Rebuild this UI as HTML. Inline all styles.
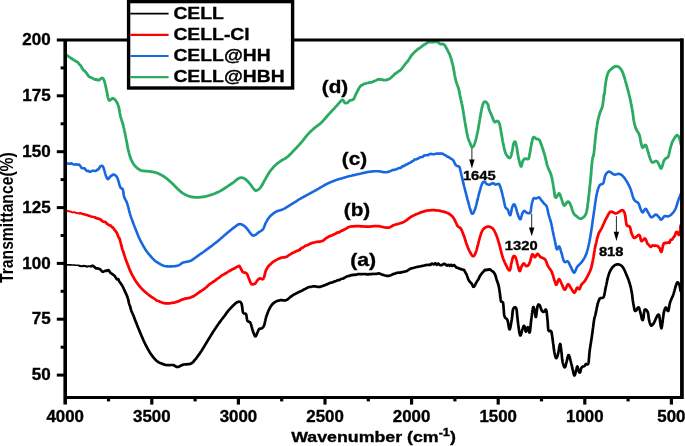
<!DOCTYPE html>
<html><head><meta charset="utf-8"><title>FTIR</title>
<style>
html,body{margin:0;padding:0;background:#fff;}
body{width:685px;height:446px;overflow:hidden;}
svg{display:block;stroke-linecap:butt;will-change:transform;font-family:"Liberation Sans",sans-serif;font-weight:bold;fill:#000;}
</style></head><body>
<svg width="685" height="446" viewBox="0 0 685 446">
<rect width="685" height="446" fill="#fff"/>
<path d="M65.2 264.8L65.7 264.8L66.4 264.8L67.1 264.8L68.0 264.9L69.0 264.9L69.9 264.9L70.9 264.9L71.9 265.0L72.9 265.0L73.8 265.0L74.6 265.1L75.5 265.2L76.4 265.3L77.2 265.3L78.0 265.2L78.8 265.5L79.5 265.8L80.3 266.1" fill="none" stroke="#000000" stroke-width="1.6" stroke-linejoin="round" stroke-linecap="round"/>
<path d="M79.5 265.8L80.3 266.1L81.1 266.3L81.9 266.3L82.7 266.0L83.5 265.9L84.3 266.0L85.1 266.1L86.0 266.2L86.8 266.6L87.6 266.5L88.4 266.3L89.2 266.2L90.0 266.2L90.9 266.5L91.7 266.1L92.5 265.8" fill="none" stroke="#000000" stroke-width="2.1" stroke-linejoin="round" stroke-linecap="round"/>
<path d="M91.7 266.1L92.5 265.8L93.4 266.0L94.2 266.7L95.0 267.7L95.8 268.2L96.5 268.5L97.3 268.3L98.1 268.5L98.8 268.7L99.5 269.0L100.2 269.3L100.9 270.1L101.6 270.8L102.3 271.6L103.2 271.8L104.0 271.4L104.9 270.9L105.8 270.8L106.6 271.0L107.4 270.2L108.2 270.0L108.9 270.6L109.5 271.4L110.1 272.3L110.7 273.1L111.3 273.4L111.9 273.7L112.6 274.3L113.1 274.7L113.7 275.1L114.3 275.5L114.9 276.3L115.5 277.2L116.2 278.2L116.8 279.2L117.4 279.4L117.9 279.2L118.4 279.2L119.0 280.7L119.6 282.0L120.1 282.6L120.6 283.2L121.1 283.8L121.5 284.5L122.0 285.3L122.4 285.9L122.7 286.5L123.0 287.1L123.4 287.8L123.7 288.5L124.0 289.3L124.4 290.1L124.7 290.9L125.0 291.6L125.3 292.3L125.7 292.9L126.0 293.6L126.4 294.4L126.7 295.2L127.0 296.1L127.4 296.9L127.6 297.7L127.9 298.4L128.1 299.2L128.3 299.9L128.4 300.6L128.6 301.3L128.7 302.0L128.9 302.8L129.1 303.6L129.4 304.5L129.6 305.0L129.8 305.5L130.1 306.2L130.3 307.2L130.6 308.3L130.9 309.4L131.2 310.4L131.5 311.2L131.8 311.9L132.1 312.6L132.5 313.3L132.8 314.1L133.1 314.9L133.5 315.7L133.8 316.6L134.1 317.3L134.4 318.1L134.6 318.8L134.9 319.6L135.2 320.4L135.5 321.1L135.8 321.9L136.1 322.7L136.5 323.5L136.8 324.3L137.1 325.1L137.4 325.9L137.7 326.7L138.0 327.5L138.4 328.3L138.7 329.0L139.0 329.8L139.3 330.6L139.6 331.3L139.9 332.1L140.3 332.9L140.6 333.7L141.0 334.5L141.3 335.4L141.6 336.2L142.0 336.9L142.3 337.7L142.7 338.5L143.0 339.3L143.3 340.1L143.7 340.8L144.0 341.5L144.4 342.3L144.7 343.0L145.1 343.7L145.4 344.4L145.8 345.2L146.2 346.0L146.7 346.8L147.1 347.6L147.5 348.4L147.9 349.2L148.3 349.9L148.8 350.6L149.2 351.3L149.6 352.0L150.0 352.7L150.5 353.4L150.9 354.0L151.3 354.6L151.9 355.4L152.5 356.2L153.0 357.0L153.6 357.7L154.2 358.4L154.8 359.0L155.4 359.6L155.9 360.2L156.5 360.7L157.1 361.2L157.8 361.8L158.6 362.2L159.4 362.6L160.1 363.0L160.9 363.3L161.6 363.6L162.3 363.9L163.0 364.1L163.9 364.4L164.8 364.7L165.5 364.9L166.4 365.0L167.3 365.1L168.1 365.1L168.9 365.1L169.8 365.1L170.7 365.0L171.6 365.0L172.4 365.0L173.2 365.1L174.2 365.4L175.0 365.9L175.8 366.5L176.7 366.9L177.6 367.0L178.3 366.9L179.1 366.6L179.9 366.2L180.7 365.7L181.6 365.3L182.5 364.9L183.4 364.6L184.2 364.5L185.0 364.4L185.8 364.3L186.7 364.3L187.6 364.2L188.4 364.2L189.2 364.1L190.0 363.9L190.7 363.7L191.5 363.3L192.1 362.9L192.7 362.4L193.3 361.9L193.8 361.2L194.4 360.5L195.1 359.7L195.5 359.2L196.0 358.6L196.4 358.0L196.9 357.4L197.4 356.7L197.9 356.0L198.4 355.3L198.9 354.6L199.4 353.9L199.9 353.2L200.4 352.4L200.9 351.7L201.4 351.0L201.8 350.3L202.3 349.6L202.7 348.9L203.2 348.2L203.6 347.4L204.1 346.7L204.5 345.9L205.0 345.2L205.4 344.4L205.9 343.7L206.3 342.9L206.8 342.2L207.2 341.5L207.7 340.7L208.1 340.0L208.6 339.3L209.0 338.5L209.5 337.8L209.9 337.0L210.4 336.3L210.8 335.6L211.3 334.8L211.7 334.1L212.2 333.4L212.6 332.7L213.0 332.0L213.5 331.3L213.9 330.6L214.4 330.0L214.8 329.3L215.2 328.6L215.7 328.0L216.1 327.3L216.6 326.7L217.0 326.0L217.5 325.3L217.9 324.7L218.4 324.0L218.9 323.3L219.4 322.6L219.9 321.9L220.5 321.2L221.0 320.5L221.5 319.8L222.1 319.0L222.6 318.3L223.1 317.7L223.6 317.0L224.1 316.4L224.6 315.8L225.0 315.2L225.6 314.4L226.2 313.6L226.6 312.9L227.1 312.3L227.6 311.7L228.0 311.1L228.6 310.4L229.2 309.7L229.7 309.1L230.3 308.5L230.9 307.8L231.5 307.2L232.2 306.5L232.9 305.8L233.5 305.2L234.2 304.6L234.8 304.0L235.3 303.5L235.8 303.1L236.9 302.3L237.9 301.9L238.7 301.7L239.4 301.7L240.3 301.9L241.0 302.6L241.6 303.9L241.8 304.5L241.9 305.2L242.0 306.0L242.1 306.9L242.3 307.8L242.4 308.8L242.5 309.7L242.6 310.6L242.8 311.4L242.9 312.1L243.1 312.6L243.8 313.4L244.6 313.5L245.3 313.5L246.0 314.1L246.2 314.7L246.4 315.5L246.6 316.4L246.7 317.4L246.8 318.3L247.0 319.2L247.2 320.1L247.4 320.7L248.1 321.4L248.9 321.7L249.7 322.0L250.4 322.8L250.7 323.4L250.9 324.1L251.2 324.9L251.4 325.7L251.6 326.6L251.9 327.5L252.1 328.4L252.3 329.3L252.6 330.1L252.9 331.0L253.2 332.0L253.6 333.0L253.9 333.9L254.3 334.8L254.6 335.5L254.9 336.1L255.2 336.4L255.7 336.3L256.2 335.4L256.7 334.2L257.2 333.1L257.6 332.3L257.9 331.4L258.3 330.5L258.7 329.7L259.1 329.1L260.0 328.7L261.0 328.6L262.0 328.2L262.6 327.7L263.1 327.1L263.7 326.2L264.2 325.0L264.4 324.4L264.6 323.8L264.8 323.0L264.9 322.2L265.1 321.4L265.3 320.6L265.5 319.7L265.7 318.8L265.9 318.0L266.1 317.1L266.4 316.3L266.7 315.5L267.0 314.7L267.3 313.8L267.6 313.0L267.9 312.1L268.3 311.3L268.6 310.4L269.0 309.6L269.4 308.9L269.7 308.2L270.1 307.5L270.6 306.7L271.1 305.9L271.6 305.2L272.2 304.5L272.7 303.9L273.3 303.4L273.9 302.9L274.5 302.4L275.3 301.9L276.1 301.5L276.9 301.1L277.7 300.8L278.6 300.6L279.5 300.4L280.3 300.2L281.1 300.1L282.0 300.2L282.8 300.3L283.6 300.4L284.4 300.5L285.3 300.4L286.1 300.2L286.7 299.9L287.4 299.5L288.0 299.1L288.6 298.5L289.2 298.0L289.9 297.4L290.5 296.9L291.3 296.3L292.0 295.8L292.6 295.4L293.3 295.0L293.9 294.6L294.6 294.3L295.3 293.9L296.0 293.5L296.7 293.1L297.5 292.7L298.3 292.3L299.1 291.9L300.0 291.5L300.7 291.2L301.4 290.9L302.1 290.6L302.9 290.2L303.7 289.7L304.5 289.2L305.3 288.9L306.1 288.4L306.9 288.0L307.7 287.6L308.5 287.2L309.3 287.0L310.1 286.9L310.8 286.9L311.5 286.7L312.4 286.5L313.3 286.4L314.1 286.3L315.0 286.3L315.8 286.5L316.6 286.7L317.3 286.8L318.1 286.8L318.8 286.8L319.6 286.9L320.3 286.8L321.1 286.5L321.9 286.2L322.7 285.9L323.4 285.7L324.1 285.4L324.8 285.2L325.7 284.8L326.6 284.4L327.6 284.1L328.2 283.8L328.9 283.4L329.6 283.1L330.4 282.8L331.2 282.7L332.0 282.5L332.8 282.3L333.7 281.7L334.5 281.4L335.3 281.3L336.2 280.9L337.0 280.5L337.8 280.2L338.5 280.1L339.3 280.1L340.0 279.6L340.9 279.0L341.8 278.8L342.7 278.6L343.5 278.4L344.3 277.8L345.1 277.4L345.9 276.9L346.7 276.6L347.4 276.3L348.2 276.1L348.9 275.9L349.6 275.8L350.5 275.4L351.4 275.1L352.2 275.2L353.0 274.9L353.8 274.7L354.6 274.8L355.3 274.8L356.1 274.7L356.9 274.4L357.8 274.2L358.7 274.1L359.6 274.2L360.4 274.2L361.3 274.0L362.2 274.2L363.1 274.2L364.0 274.0L364.8 274.0L365.6 274.1L366.5 274.4L367.3 274.3L368.2 274.2L369.0 274.3L369.8 274.2L370.7 274.2L371.5 274.1L372.3 274.0L373.1 273.8L373.9 274.0L374.6 274.0L375.4 273.9L376.2 273.8L377.0 273.8L377.9 273.5L378.8 273.4L379.5 273.6L380.3 273.8L381.1 274.2L381.9 274.5L382.7 274.8L383.5 274.9L384.3 275.2L385.2 275.5L386.0 275.7L386.8 275.8L387.6 275.8L388.3 275.9L389.2 275.8L390.0 275.5L390.8 275.3L391.6 274.9L392.3 274.5L393.1 274.1L393.9 273.8L394.7 273.7L395.5 273.4L396.3 273.0L397.1 272.8L397.9 272.8L398.7 272.6L399.6 272.6L400.4 272.6L401.3 272.3L402.1 272.1L402.9 272.0L403.7 271.8L404.4 271.7L405.1 271.5L405.9 271.3L406.7 271.1L407.3 270.7L408.0 270.3L408.6 269.8L409.3 269.3L410.0 268.9L410.9 268.5L411.6 268.3L412.4 268.2L413.2 268.0L414.0 267.8L414.9 267.5L415.8 267.2L416.7 267.0L417.6 266.8L418.4 266.7L419.2 266.5L420.0 266.4L420.9 266.2L421.7 266.0L422.6 265.8L423.4 265.7L424.2 265.5L424.9 265.3L425.7 265.2L426.5 264.9L427.3 265.0L428.1 265.0L428.9 264.6L429.7 264.9L430.5 264.9L431.3 263.9L432.1 263.6L432.9 264.0L433.7 264.4L434.6 264.1L435.3 263.2L436.1 263.9L436.9 264.8L437.7 263.8L438.5 263.7L439.3 264.6L440.1 265.1L441.0 265.3L441.8 265.1L442.6 264.6L443.4 264.1L444.3 263.8L445.2 264.2L446.1 264.9L447.0 265.6L447.8 265.1L448.7 264.8L449.6 265.8L450.5 265.2L451.3 264.8L452.1 266.0L453.0 265.7L453.9 265.0L454.7 265.6L455.6 266.6L456.4 267.6L457.2 267.7L458.0 268.0L458.7 268.4L459.4 268.6L460.3 268.9L461.1 269.1L461.9 269.4L462.6 269.7L463.2 269.8L463.8 269.9L464.3 270.2L464.7 271.1L465.1 271.9L465.5 272.7L465.9 273.3L466.3 274.0L466.7 274.6L467.0 275.6L467.4 276.7L467.8 277.8L468.1 278.8L468.5 279.6L468.9 280.4L469.3 281.1L469.7 281.6L470.0 282.0L470.4 282.3L471.1 283.0L471.8 283.7L472.5 285.2L473.1 286.6L473.7 286.8L474.2 286.5L474.7 285.8L475.2 284.9L475.6 283.8L476.2 282.8L476.6 282.2L476.9 281.5L477.3 280.9L477.7 280.4L478.1 279.8L478.6 279.0L479.0 278.0L479.5 276.9L479.9 276.1L480.4 275.3L480.9 274.6L481.5 273.9L482.0 273.2L482.6 272.5L483.2 271.9L483.7 271.3L484.2 270.6L485.0 269.8L485.7 270.1L486.5 270.2L487.2 269.6L487.9 269.5L488.8 269.8L489.7 269.3L490.6 269.7L491.5 270.7L492.0 271.0L492.6 271.2L493.1 271.7L493.7 272.3L494.2 273.0L494.7 273.9L495.2 274.8L495.5 275.7L495.8 276.7L496.1 277.8L496.4 278.9L496.7 279.9L496.9 280.6L497.2 281.3L497.4 282.0L497.7 282.7L497.9 283.3L498.1 284.0L498.4 284.9L498.6 285.7L498.7 286.4L498.9 287.0L499.0 287.8L499.2 288.7L499.4 289.9L499.5 290.6L499.6 291.4L499.7 292.3L499.9 293.2L500.0 294.2L500.1 295.2L500.2 296.3L500.3 297.3L500.5 298.3L500.6 299.1L500.7 299.9L500.8 300.5L501.0 301.1L501.1 301.6L502.1 301.8L503.0 302.5L503.1 303.0L503.2 303.7L503.3 304.5L503.4 305.4L503.5 306.3L503.5 307.3L503.6 308.3L503.7 309.3L503.8 310.3L503.9 311.4L503.9 312.3L504.0 313.3L504.1 314.2L504.2 315.0L504.4 315.7L504.5 316.3L505.0 317.5L505.6 318.1L506.2 318.5L506.8 319.0L507.4 319.9L507.6 320.5L507.8 321.4L508.0 322.3L508.2 323.4L508.4 324.4L508.5 325.5L508.7 326.5L508.9 327.5L509.1 328.3L509.2 328.9L509.4 329.3L509.6 329.4L509.8 329.3L509.9 328.9L510.1 328.4L510.3 327.7L510.5 326.9L510.7 326.0L510.8 325.0L511.0 324.0L511.2 323.0L511.3 322.0L511.5 321.0L511.7 320.0L511.8 319.2L511.9 318.3L512.1 317.4L512.2 316.4L512.3 315.5L512.4 314.5L512.5 313.5L512.5 312.6L512.6 311.7L512.8 310.9L512.9 310.2L513.0 309.5L513.2 309.0L514.1 307.6L515.3 307.2L516.2 308.2L516.4 308.7L516.5 309.2L516.6 309.9L516.7 310.7L516.9 311.5L516.9 312.4L517.0 313.4L517.1 314.4L517.2 315.4L517.3 316.4L517.4 317.4L517.5 318.3L517.6 319.2L517.7 320.0L517.8 320.9L517.9 321.8L518.0 322.7L518.1 323.6L518.2 324.5L518.4 325.4L518.5 326.3L518.6 327.2L518.7 328.1L518.8 328.8L518.9 329.6L519.0 330.3L519.1 330.9L519.3 332.2L519.6 333.4L519.8 334.3L520.0 335.0L520.2 335.4L520.5 335.5L520.7 335.2L521.0 334.5L521.3 333.5L521.6 332.4L521.8 331.3L522.1 330.2L522.4 329.4L522.8 328.4L523.1 327.3L523.5 326.4L523.8 325.9L524.2 325.8L524.4 326.2L524.7 327.1L524.9 328.2L525.2 329.3L525.4 330.4L525.6 331.2L525.9 331.6L526.3 331.2L526.6 330.1L527.0 328.8L527.4 327.6L527.8 327.2L528.1 327.7L528.4 328.9L528.8 330.4L529.1 331.7L529.4 332.5L529.7 332.3L529.8 332.0L529.9 331.5L530.0 331.0L530.1 330.3L530.2 329.6L530.3 328.7L530.4 327.9L530.5 326.9L530.6 326.0L530.7 325.0L530.8 324.0L530.9 323.0L531.0 322.0L531.1 321.0L531.2 320.1L531.3 319.3L531.4 318.4L531.5 317.7L531.6 316.7L531.8 315.7L531.9 314.7L532.0 313.7L532.2 312.7L532.3 311.7L532.4 310.8L532.6 310.0L532.7 309.2L532.8 308.5L533.0 308.0L533.1 307.5L533.2 307.2L533.5 307.0L533.8 307.7L534.1 308.8L534.4 310.1L534.7 311.2L534.9 312.1L535.1 313.2L535.2 314.4L535.4 315.6L535.5 316.5L535.7 317.0L535.9 317.0L536.0 316.7L536.1 316.1L536.3 315.4L536.4 314.6L536.5 313.6L536.6 312.5L536.8 311.4L536.9 310.3L537.0 309.3L537.2 308.3L537.3 307.4L537.5 306.7L537.6 306.1L538.5 304.5L539.5 304.9L539.8 305.4L540.1 306.1L540.4 307.0L540.7 308.0L541.1 308.9L541.4 309.8L541.7 310.4L542.4 311.3L543.2 311.8L543.9 311.9L544.7 311.0L545.4 309.7L546.1 309.7L546.2 310.1L546.4 310.7L546.5 311.3L546.6 312.1L546.8 313.0L546.9 313.9L547.0 314.9L547.1 315.9L547.2 316.9L547.3 317.9L547.4 318.9L547.5 319.8L547.6 320.6L547.7 321.5L547.7 322.4L547.8 323.4L547.8 324.3L547.9 325.3L548.0 326.2L548.0 327.1L548.1 327.9L548.2 328.7L548.3 329.4L548.4 330.0L548.5 330.5L549.3 331.2L550.3 330.8L551.1 331.2L551.3 331.7L551.5 332.3L551.6 332.9L551.8 333.7L551.9 334.5L552.0 335.4L552.2 336.3L552.3 337.2L552.4 338.3L552.6 339.3L552.7 340.0L552.8 340.7L552.9 341.5L553.0 342.4L553.1 343.2L553.3 344.1L553.4 345.0L553.5 345.9L553.6 346.8L553.7 347.7L553.8 348.6L553.9 349.4L554.1 350.2L554.2 351.0L554.3 351.7L554.4 352.3L554.7 353.6L554.9 354.8L555.2 355.9L555.4 356.8L555.7 357.5L555.9 358.0L556.2 358.2L556.5 358.1L556.8 357.6L557.1 356.9L557.5 355.9L557.8 354.8L558.1 353.6L558.3 352.9L558.4 352.1L558.6 351.2L558.8 350.2L559.0 349.1L559.1 348.1L559.3 347.1L559.5 346.2L559.7 345.4L559.8 344.7L560.0 344.2L560.1 344.0L560.3 344.1L560.5 344.5L560.6 345.2L560.7 346.2L560.9 347.3L561.0 348.6L561.1 349.8L561.3 351.0L561.4 351.7L561.5 352.4L561.6 353.2L561.7 354.1L561.8 355.0L561.8 355.9L561.9 356.8L562.0 357.7L562.1 358.5L562.2 359.4L562.3 360.2L562.5 361.0L562.6 361.7L562.7 362.3L563.0 363.6L563.4 364.9L563.8 366.0L564.2 366.8L564.5 367.3L564.9 367.4L565.2 367.1L565.4 366.6L565.6 365.8L565.9 364.8L566.1 363.8L566.3 362.8L566.6 361.8L566.8 360.9L567.1 359.9L567.3 358.8L567.6 357.7L567.8 356.6L568.1 355.8L568.3 355.2L568.6 355.0L568.9 355.2L569.1 355.7L569.4 356.5L569.7 357.4L570.0 358.5L570.3 359.6L570.5 360.6L570.8 361.6L571.0 362.4L571.2 363.1L571.4 364.0L571.6 364.8L571.8 365.6L572.0 366.5L572.2 367.3L572.3 368.1L572.5 368.9L572.7 369.6L573.0 370.6L573.2 371.8L573.4 372.9L573.7 373.9L573.9 374.7L574.2 375.3L574.4 375.5L574.7 375.3L575.0 374.6L575.3 373.6L575.6 372.4L575.9 371.3L576.2 370.4L576.5 369.4L576.7 368.3L576.9 367.3L577.1 366.6L577.3 366.4L577.5 366.7L577.8 367.4L578.0 368.4L578.3 369.4L578.6 370.4L578.8 371.1L579.4 372.5L580.0 372.6L580.2 372.1L580.5 371.2L580.7 370.2L581.0 369.1L581.3 368.1L581.7 367.4L582.4 366.8L583.2 366.5L583.9 366.3L584.6 366.0L585.2 365.2L585.6 364.4L586.1 363.8L587.2 364.5L588.3 363.8L588.4 363.3L588.5 362.8L588.6 362.2L588.7 361.5L588.8 360.7L588.8 359.9L588.9 359.1L589.0 358.2L589.1 357.2L589.2 356.3L589.2 355.3L589.3 354.4L589.4 353.4L589.5 352.5L589.6 351.6L589.7 350.7L589.8 349.9L589.9 349.2L590.0 348.4L590.1 347.6L590.3 346.8L590.4 346.0L590.5 345.2L590.6 344.4L590.8 343.6L590.9 342.8L591.0 342.0L591.1 341.1L591.3 340.3L591.4 339.5L591.5 338.6L591.7 337.8L591.8 337.0L591.9 336.1L592.0 335.3L592.1 334.5L592.2 333.7L592.4 332.8L592.5 331.9L592.6 331.1L592.7 330.2L592.8 329.3L592.9 328.4L593.1 327.5L593.2 326.6L593.3 325.8L593.4 324.9L593.5 324.1L593.6 323.3L593.7 322.6L593.8 321.9L593.9 321.2L594.0 320.6L594.1 320.0L594.3 318.7L594.5 317.7L594.7 317.0L594.9 316.5L595.1 315.9L595.3 315.2L595.5 314.2L595.6 313.5L595.8 312.8L596.0 312.1L596.1 311.2L596.3 310.4L596.5 309.5L596.6 308.7L596.8 307.8L597.0 306.9L597.2 306.1L597.4 305.4L597.5 304.6L597.7 304.0L598.0 302.9L598.3 301.9L598.6 301.1L598.9 300.3L599.2 299.6L599.5 298.9L599.9 298.4L600.8 298.0L601.8 298.0L602.8 297.9L603.6 297.1L603.8 296.6L604.0 296.0L604.2 295.4L604.4 294.6L604.5 293.8L604.7 293.0L604.8 292.1L605.0 291.2L605.2 290.3L605.3 289.4L605.5 288.4L605.7 287.5L605.9 286.8L606.0 286.0L606.2 285.3L606.4 284.5L606.5 283.6L606.7 282.8L606.9 282.0L607.1 281.1L607.2 280.3L607.4 279.4L607.6 278.6L607.8 277.8L608.0 277.1L608.2 276.3L608.4 275.6L608.6 275.0L608.9 274.0L609.3 273.1L609.6 272.2L610.0 271.4L610.3 270.7L610.7 270.0L611.1 269.3L611.5 268.6L611.9 268.1L612.3 267.5L613.0 266.8L613.7 266.1L614.4 265.5L615.1 265.0L615.9 264.7L616.7 264.4L617.4 264.3L618.1 264.3L618.9 264.5L619.7 264.7L620.4 265.1L621.2 265.6L621.9 266.1L622.5 266.8L622.9 267.3L623.3 267.9L623.7 268.6L624.1 269.3L624.4 270.0L624.8 270.8L625.1 271.6L625.4 272.4L625.8 273.2L626.1 274.0L626.4 274.7L626.7 275.5L627.1 276.2L627.4 277.0L627.7 277.7L628.0 278.5L628.3 279.3L628.6 280.1L628.9 280.9L629.1 281.7L629.4 282.5L629.6 283.3L629.9 284.1L630.1 284.8L630.3 285.6L630.5 286.4L630.7 287.2L630.9 288.0L631.1 288.8L631.2 289.7L631.4 290.6L631.6 291.5L631.7 292.2L631.9 293.0L632.0 293.8L632.1 294.6L632.2 295.4L632.3 296.3L632.4 297.2L632.5 298.0L632.6 298.9L632.7 299.7L632.8 300.5L633.0 301.3L633.1 302.1L633.2 302.8L633.3 303.5L633.5 304.6L633.7 305.7L633.9 306.7L634.1 307.8L634.2 308.7L634.5 309.5L634.7 310.2L634.9 310.7L635.2 311.0L635.7 310.9L636.3 310.3L636.9 309.3L637.5 308.3L638.0 307.5L638.5 307.3L638.9 307.6L639.2 308.2L639.5 309.0L639.7 310.1L640.0 311.1L640.3 312.2L640.5 313.0L640.7 313.9L641.0 314.8L641.2 315.8L641.4 316.8L641.6 317.8L641.8 318.6L642.0 319.2L642.2 319.7L642.8 320.1L643.4 318.4L643.5 317.8L643.6 317.0L643.7 316.0L643.8 314.9L643.9 313.8L644.0 312.7L644.2 311.7L644.3 310.8L644.5 310.1L644.7 309.7L645.4 309.4L646.3 309.9L647.1 311.0L647.8 312.2L648.0 312.8L648.2 313.6L648.3 314.4L648.4 315.3L648.5 316.2L648.6 317.1L648.7 318.0L648.8 318.9L649.0 319.7L649.2 320.7L649.5 321.8L649.8 322.8L650.1 323.8L650.4 324.6L650.8 325.2L651.1 325.6L651.6 325.6L652.2 325.2L652.8 324.5L653.4 323.7L654.0 322.8L654.4 322.1L654.7 321.3L655.1 320.4L655.5 319.5L655.8 318.7L656.2 317.9L656.5 317.2L657.1 316.1L657.8 315.1L658.4 314.6L658.9 314.7L659.1 315.1L659.3 315.7L659.4 316.5L659.6 317.4L659.7 318.4L659.8 319.4L659.9 320.3L660.1 321.3L660.2 322.1L660.4 323.2L660.5 324.4L660.7 325.6L660.9 326.7L661.1 327.6L661.2 328.1L661.4 328.3L661.5 328.1L661.7 327.6L661.8 326.9L662.0 326.0L662.1 325.0L662.3 324.0L662.4 322.9L662.6 321.9L662.7 320.9L662.8 320.1L662.9 319.2L663.0 318.3L663.2 317.3L663.3 316.4L663.4 315.5L663.5 314.6L663.6 313.7L663.8 312.9L663.9 312.2L664.2 311.1L664.5 310.0L664.8 309.1L665.1 308.3L665.4 307.8L665.8 307.5L666.3 307.9L666.7 308.9L667.3 310.1L667.7 310.9L668.2 311.0L668.4 310.7L668.6 310.1L668.7 309.5L668.9 308.7L669.0 307.8L669.2 306.9L669.3 305.9L669.5 304.9L669.7 304.0L669.9 303.1L670.1 302.3L670.4 301.5L670.7 300.8L671.0 300.0L671.3 299.3L671.6 298.6L671.9 297.9L672.3 297.2L672.6 296.4L672.9 295.7L673.2 294.9L673.5 294.1L673.7 293.3L673.9 292.5L674.2 291.6L674.4 290.8L674.6 289.9L674.9 289.1L675.1 288.3L675.3 287.5L675.5 286.8L675.7 286.2L676.1 285.0L676.5 284.0L676.8 283.2L677.1 282.7L677.5 282.4L678.2 282.6L678.8 283.6L679.4 284.9L679.6 285.6L679.8 286.6L680.0 287.6L680.2 288.7L680.4 289.7L680.5 290.5L680.6 291.1" fill="none" stroke="#000000" stroke-width="2.7" stroke-linejoin="round" stroke-linecap="round"/>
<path d="M65.2 210.6L65.1 210.5L66.6 210.8L67.1 210.9L67.7 211.0L68.4 211.2L69.2 211.3L70.0 211.4L70.9 211.7L71.8 212.1L72.7 212.4L73.7 212.3L74.6 212.3L75.6 212.6L76.5 213.1L77.4 213.2L78.2 213.3L79.0 213.2L79.9 213.2" fill="none" stroke="#ff0000" stroke-width="2.0" stroke-linejoin="round" stroke-linecap="round"/>
<path d="M79.9 213.2L80.7 213.2L81.5 213.5L82.3 213.9L83.1 214.3L83.9 214.2L84.7 214.2L85.5 214.9L86.2 215.0L87.0 214.8L87.7 215.3L88.5 215.9L89.2 215.6L90.1 215.8L90.9 216.6L91.7 216.7L92.5 216.8L93.3 216.9L94.1 217.1L94.9 217.4L95.6 217.8" fill="none" stroke="#ff0000" stroke-width="2.4" stroke-linejoin="round" stroke-linecap="round"/>
<path d="M94.9 217.4L95.6 217.8L96.4 218.1L97.2 218.4L98.0 218.6L98.7 218.7L99.5 219.0L100.2 219.3L101.0 219.9L101.8 220.6L102.5 221.3L103.3 221.6L104.0 221.8L104.7 221.8L105.4 222.0L106.1 222.8L106.7 223.6L107.5 224.0L108.2 224.5L108.9 225.1L109.6 225.3L110.2 225.4L110.9 225.8L111.5 226.6L112.0 227.2L112.6 227.4L113.2 227.7L113.7 228.6L114.2 229.5L114.7 230.1L115.2 230.6L115.6 231.1L116.1 231.7L116.5 232.4L116.9 233.1L117.3 233.9L117.7 234.9L118.0 235.8L118.3 236.6L118.6 237.2L119.0 237.7L119.3 238.3L119.6 238.9L119.9 239.9L120.1 240.7L120.4 241.5L120.6 242.4L120.8 243.2L121.0 244.1L121.2 245.0L121.5 245.9L121.7 246.8L121.9 247.7L122.1 248.6L122.4 249.3L122.6 250.0L122.8 250.6L123.1 251.3L123.3 251.9L123.5 252.6L123.7 253.3L124.0 254.0L124.2 254.7L124.4 255.4L124.7 256.2L125.0 257.2L125.3 258.2L125.7 259.3L125.9 260.0L126.2 260.6L126.4 261.3L126.7 262.0L127.0 262.7L127.3 263.4L127.6 264.2L127.9 265.0L128.2 265.8L128.5 266.6L128.8 267.4L129.1 268.2L129.5 269.1L129.8 269.9L130.1 270.6L130.5 271.4L130.8 272.2L131.2 272.9L131.5 273.6L131.9 274.4L132.3 275.1L132.7 275.9L133.1 276.6L133.5 277.3L133.9 278.0L134.3 278.8L134.7 279.5L135.2 280.2L135.6 280.8L136.1 281.5L136.5 282.2L136.9 282.8L137.4 283.4L137.9 284.1L138.3 284.7L138.8 285.3L139.3 286.0L139.9 286.6L140.4 287.3L141.0 287.9L141.6 288.5L142.2 289.1L142.8 289.7L143.3 290.3L143.9 290.8L144.5 291.4L145.1 291.9L145.8 292.4L146.4 293.0L147.0 293.5L147.6 294.0L148.3 294.5L149.0 295.1L149.7 295.6L150.4 296.2L151.1 296.7L151.8 297.2L152.5 297.6L153.3 298.0L154.0 298.5L154.7 299.0L155.4 299.5L156.0 300.0L156.7 300.4L157.3 300.7L158.2 301.0L159.0 301.3L159.8 301.7L160.5 302.0L161.3 302.2L162.0 302.5L162.8 302.8L163.7 303.1L164.6 303.2L165.4 303.3L166.1 303.4L167.0 303.4L167.8 303.4L168.7 303.4L169.6 303.3L170.5 303.2L171.4 303.0L172.3 302.8L173.1 302.7L174.0 302.7L174.8 302.5L175.7 302.2L176.5 301.8L177.3 301.6L178.1 301.4L178.9 301.2L179.7 300.8L180.5 300.2L181.2 299.9L182.0 299.7L182.8 299.4L183.6 299.1L184.4 298.9L185.2 298.6L186.0 298.3L186.8 298.5L187.6 298.4L188.3 298.0L189.1 297.9L189.9 297.8L190.7 297.5L191.5 297.1L192.3 296.6L193.0 296.4L193.6 296.2L194.3 295.8L195.0 295.2L195.6 294.8L196.3 294.3L196.9 293.9L197.6 293.4L198.3 292.9L199.0 292.5L199.7 291.9L200.4 291.4L201.1 291.1L201.7 290.7L202.3 290.2L202.9 289.8L203.5 289.4L204.1 289.1L204.8 288.5L205.4 288.0L206.0 287.5L206.7 287.0L207.3 286.3L208.0 285.5L208.6 285.1L209.3 284.6L209.9 284.0L210.6 283.5L211.3 283.1L212.0 282.7L212.6 282.2L213.3 281.7L214.0 281.3L214.7 280.8L215.4 280.3L216.2 279.7L216.9 279.0L217.6 278.5L218.3 278.1L219.0 277.6L219.7 277.2L220.4 276.5L221.1 276.0L221.7 275.5L222.4 275.1L223.0 274.8L223.8 274.4L224.7 273.8L225.5 273.4L226.2 273.1L227.0 272.5L227.7 272.0L228.4 271.5L229.1 271.2L229.8 270.8L230.5 270.4L231.2 270.1L231.8 269.7L232.6 269.2L233.5 268.9L234.3 268.4L235.1 268.0L235.9 267.5L236.6 267.0L237.2 266.8L237.8 266.6L238.3 266.3L239.4 265.9L240.0 266.9L240.3 267.5L240.7 268.3L241.1 269.1L241.5 270.0L242.0 270.8L242.4 271.5L242.9 272.1L243.8 272.5L244.8 272.6L245.8 272.9L246.6 273.4L247.0 274.1L247.4 274.8L247.8 275.5L248.1 276.4L248.4 277.3L248.8 278.3L249.1 279.1L249.5 280.0L249.8 280.9L250.2 281.8L250.5 282.6L250.9 283.3L251.3 283.8L251.7 284.2L252.5 284.4L253.4 284.2L254.4 284.0L255.3 283.4L255.8 282.7L256.3 282.0L256.8 281.2L257.4 280.4L257.9 279.7L258.4 279.2L259.0 278.7L259.9 278.4L260.8 278.5L261.7 278.9L262.6 279.3L263.4 278.6L263.7 278.0L264.0 277.3L264.3 276.5L264.5 275.6L264.7 274.7L265.0 273.7L265.2 272.8L265.4 271.9L265.7 271.1L266.0 270.4L266.3 269.7L266.7 269.0L267.2 268.1L267.6 267.3L268.1 266.6L268.6 266.0L269.1 265.5L269.6 265.0L270.1 264.6L270.7 264.1L271.4 263.4L272.1 262.7L272.8 262.0L273.5 261.5L274.3 261.2L275.0 260.7L275.8 260.3L276.5 259.9L277.3 259.4L278.2 258.9L279.1 258.7L279.9 258.4L280.7 257.9L281.5 257.7L282.3 257.5L283.2 257.3L284.1 257.3L284.9 257.3L285.7 256.8L286.7 256.6L287.4 256.4L288.0 255.8L288.7 255.2L289.5 254.8L290.2 254.4L291.0 253.8L291.8 253.3L292.6 252.9L293.4 252.6L294.3 252.2L295.2 251.7L296.1 251.3L297.1 250.9L297.9 250.6L298.7 250.3L299.4 250.1L299.9 250.1L299.7 249.6L300.0 249.0L300.4 248.9L300.9 248.5L301.5 248.1L302.1 247.9L302.8 247.6L303.6 247.1L304.4 246.5L305.2 245.9L306.1 245.5L306.9 245.3L307.8 245.0L308.6 244.6L309.4 244.2L310.2 243.7L311.0 243.4L311.7 243.0L312.5 242.8L313.4 242.6L314.2 242.5L315.0 242.3L315.9 242.0L316.7 241.9L317.5 241.9L318.3 241.7L319.0 241.7L319.8 241.8L320.5 241.5L321.2 241.3L321.9 241.1L322.7 240.8L323.4 240.4L324.1 239.9L324.7 239.4L325.3 238.8L325.9 238.4L326.6 237.9L327.3 237.5L328.2 237.0L329.2 236.4L329.8 236.1L330.4 235.9L331.1 235.7L331.8 235.4L332.5 235.1L333.3 234.7L334.1 234.3L334.9 234.0L335.8 233.6L336.6 232.9L337.4 232.6L338.2 232.4L339.1 232.3L339.8 231.8L340.6 231.2L341.3 230.9L342.0 230.7L342.7 230.3L343.3 230.1L343.8 229.8L344.9 229.3L345.8 228.8L346.5 228.4L347.1 228.0L347.6 227.6L348.1 227.3L348.8 227.0L349.6 226.8L350.3 226.6L351.0 226.5L351.7 226.4L352.5 226.4L353.3 226.3L354.1 226.3L355.0 226.2L355.8 226.2L356.7 226.2L357.5 226.2L358.4 226.2L359.2 226.2L360.0 226.2L360.9 226.3L361.7 226.3L362.6 226.3L363.5 226.4L364.4 226.5L365.3 226.5L366.1 226.5L367.0 226.6L367.8 226.6L368.6 226.6L369.4 226.6L370.3 226.5L371.1 226.4L371.8 226.4L372.6 226.3L373.4 226.2L374.2 226.1L374.9 226.0L375.7 226.0L376.6 226.0L377.4 226.0L378.2 226.1L379.1 226.2L380.0 226.4L380.9 226.5L381.8 226.8L382.7 227.0L383.6 227.2L384.5 227.4L385.3 227.5L386.1 227.6L386.9 227.7L387.6 227.7L388.7 227.6L389.7 227.3L390.6 226.9L391.4 226.4L392.2 226.0L392.8 225.6L393.4 225.3L394.0 225.1L395.0 224.8L395.5 224.6L396.2 224.4L396.9 224.2L397.7 224.0L398.6 223.8L399.5 223.5L400.4 223.2L401.3 222.9L402.2 222.6L403.0 222.3L403.8 221.9L404.5 221.5L405.2 221.1L405.9 220.6L406.6 220.1L407.2 219.6L407.9 219.1L408.5 218.6L409.1 218.1L409.8 217.7L410.4 217.2L411.1 216.8L411.8 216.4L412.6 216.0L413.3 215.6L414.0 215.3L414.8 214.9L415.5 214.6L416.2 214.3L416.9 214.0L417.7 213.7L418.4 213.4L419.2 213.1L420.0 212.7L420.8 212.4L421.6 212.1L422.5 211.8L423.3 211.6L424.1 211.3L424.9 211.1L425.7 210.9L426.5 210.7L427.3 210.6L428.1 210.5L428.9 210.4L429.8 210.3L430.6 210.3L431.4 210.2L432.2 210.2L433.0 210.2L433.8 210.2L434.6 210.2L435.4 210.3L436.2 210.3L437.1 210.4L437.9 210.5L438.7 210.6L439.5 210.7L440.3 210.9L441.1 211.1L442.0 211.3L442.8 211.5L443.7 211.7L444.5 211.9L445.3 212.2L446.1 212.5L446.9 212.8L447.6 213.1L448.5 213.5L449.3 214.0L450.1 214.5L450.8 215.0L451.5 215.6L452.1 216.2L452.7 216.8L453.2 217.5L453.7 218.2L454.1 218.9L454.5 219.7L454.9 220.5L455.2 221.2L455.6 221.9L456.0 222.7L456.4 223.5L456.7 224.3L457.0 225.0L457.4 225.7L457.8 226.3L458.5 226.9L459.2 227.3L460.0 227.7L460.7 228.5L461.1 229.1L461.4 229.8L461.8 230.5L462.2 231.3L462.5 232.2L462.9 233.1L463.2 234.0L463.6 235.0L463.9 235.7L464.1 236.5L464.4 237.3L464.7 238.1L464.9 238.9L465.2 239.8L465.4 240.6L465.7 241.4L466.0 242.3L466.2 243.0L466.5 243.8L466.8 244.7L467.1 245.6L467.5 246.4L467.8 247.3L468.1 248.1L468.5 248.9L468.8 249.7L469.1 250.4L469.5 251.1L470.0 252.0L470.5 253.0L471.0 253.9L471.6 254.8L472.1 255.5L472.6 256.0L473.1 256.2L473.6 256.1L474.1 255.7L474.6 255.0L475.1 254.1L475.5 253.0L476.0 251.8L476.2 251.2L476.4 250.6L476.6 249.9L476.8 249.1L477.0 248.3L477.2 247.5L477.4 246.7L477.7 245.8L477.9 245.0L478.1 244.1L478.3 243.3L478.5 242.4L478.7 241.7L478.9 240.9L479.1 240.0L479.4 239.2L479.6 238.3L479.9 237.4L480.1 236.5L480.4 235.7L480.7 234.9L480.9 234.1L481.2 233.3L481.4 232.6L481.7 232.0L481.9 231.4L482.5 230.3L483.0 229.5L483.6 228.9L484.2 228.4L484.8 227.9L485.7 227.3L486.6 226.9L487.5 226.6L488.5 226.6L489.2 226.7L490.0 226.9L490.8 227.2L491.5 227.6L492.3 228.1L493.0 228.8L493.4 229.3L493.8 229.9L494.2 230.5L494.6 231.3L494.9 232.0L495.3 232.8L495.7 233.6L496.0 234.4L496.4 235.3L496.7 236.1L497.0 236.8L497.2 237.5L497.5 238.3L497.7 239.0L498.0 239.8L498.2 240.6L498.4 241.4L498.7 242.2L498.9 243.0L499.1 243.8L499.4 244.7L499.6 245.5L499.8 246.2L500.0 247.0L500.2 247.8L500.4 248.6L500.6 249.5L500.8 250.3L501.1 251.1L501.3 252.0L501.5 252.8L501.7 253.6L501.9 254.4L502.1 255.1L502.3 255.8L502.5 256.5L502.8 257.5L503.1 258.4L503.4 259.2L503.7 260.0L504.0 260.8L504.3 261.6L504.7 262.3L505.0 263.0L505.4 263.8L505.8 264.6L506.3 265.6L506.8 266.6L507.2 267.6L507.7 268.5L508.2 269.3L508.7 269.9L509.1 270.3L509.5 270.4L509.8 270.2L510.1 269.7L510.3 269.0L510.5 268.1L510.7 267.1L510.9 266.1L511.0 265.0L511.2 264.0L511.4 263.1L511.6 262.3L511.9 261.3L512.1 260.2L512.4 259.1L512.7 258.2L512.9 257.3L513.2 256.7L513.5 256.2L514.2 255.9L515.0 256.5L515.7 257.7L515.9 258.3L516.2 259.0L516.4 259.8L516.7 260.8L516.9 261.7L517.1 262.7L517.3 263.6L517.6 264.5L517.8 265.3L518.1 266.3L518.4 267.4L518.6 268.4L518.9 269.4L519.2 270.2L519.4 270.8L519.7 271.1L520.1 270.9L520.4 270.0L520.8 268.9L521.1 267.7L521.5 266.7L522.0 265.7L522.6 264.7L523.1 263.9L523.7 263.5L524.3 263.8L524.9 264.6L525.6 265.5L526.2 266.0L527.0 266.0L527.8 265.7L528.5 265.0L528.9 264.4L529.2 263.7L529.6 262.9L529.9 261.9L530.3 260.9L530.5 260.1L530.8 259.2L531.0 258.2L531.3 257.2L531.6 256.2L531.8 255.3L532.1 254.7L532.4 254.3L533.0 254.5L533.6 255.5L534.3 256.7L534.9 257.2L535.4 256.8L536.0 256.0L536.5 255.1L537.0 254.2L537.6 253.9L538.1 254.1L538.7 254.7L539.2 255.5L539.8 256.3L540.5 257.0L541.2 257.4L542.0 257.7L542.8 258.0L543.6 258.4L544.4 258.9L545.1 259.5L545.5 260.1L545.8 260.7L546.2 261.4L546.5 262.2L546.7 263.0L547.0 263.8L547.3 264.6L547.7 265.4L548.0 266.1L548.4 266.8L548.9 267.5L549.4 268.2L549.9 268.9L550.3 269.5L550.8 270.3L551.3 271.0L551.7 271.9L552.0 272.6L552.3 273.4L552.6 274.2L552.9 275.1L553.1 276.0L553.4 276.9L553.7 277.7L553.9 278.6L554.2 279.4L554.4 280.1L554.6 280.7L555.0 282.0L555.4 283.1L555.7 284.0L556.0 284.6L556.4 284.7L556.7 284.3L557.1 283.5L557.4 282.5L557.8 281.3L558.2 280.3L558.6 279.5L559.0 279.2L559.4 279.4L559.8 279.9L560.2 280.6L560.6 281.5L561.1 282.5L561.5 283.5L561.9 284.3L562.3 285.2L562.7 286.1L563.1 287.2L563.5 288.1L563.9 288.9L564.4 289.5L564.8 289.7L565.2 289.4L565.7 288.7L566.2 287.7L566.6 286.6L567.1 285.5L567.6 284.7L568.0 284.3L568.6 284.4L569.1 285.0L569.6 285.8L570.1 286.8L570.7 287.7L571.2 288.4L571.7 289.3L572.2 290.2L572.8 291.1L573.3 291.9L573.8 292.4L574.3 292.6L574.8 292.4L575.2 291.7L575.6 290.9L576.0 289.9L576.4 288.9L576.8 288.2L577.2 287.7L578.0 287.9L578.7 288.9L579.4 289.1L579.8 288.6L580.1 287.9L580.5 287.0L580.8 286.0L581.2 285.1L581.6 284.3L582.1 283.7L582.7 283.2L583.2 282.7L583.9 282.2L584.5 281.4L584.9 280.8L585.3 280.2L585.7 279.5L586.1 278.7L586.6 277.9L587.0 277.1L587.4 276.3L587.8 275.6L588.2 274.8L588.6 274.1L588.9 273.4L589.3 272.7L589.6 272.1L589.9 271.4L590.2 270.7L590.5 269.9L590.8 269.1L591.1 268.2L591.3 267.5L591.5 266.8L591.7 266.1L591.8 265.4L592.0 264.6L592.2 263.8L592.3 263.0L592.5 262.2L592.7 261.4L592.8 260.6L593.0 259.7L593.1 258.9L593.3 258.0L593.4 257.3L593.6 256.5L593.7 255.7L593.8 254.9L594.0 254.1L594.1 253.3L594.2 252.5L594.4 251.7L594.5 250.9L594.6 250.1L594.8 249.2L594.9 248.4L595.1 247.6L595.2 246.8L595.4 246.0L595.6 245.2L595.8 244.3L596.0 243.5L596.2 242.6L596.4 241.8L596.6 240.9L596.8 240.0L597.0 239.2L597.2 238.3L597.4 237.5L597.7 236.7L597.9 236.0L598.1 235.3L598.3 234.6L598.5 234.0L598.9 232.9L599.4 232.0L599.9 231.2L600.3 230.5L600.7 229.9L601.1 229.3L601.5 228.7L601.9 227.9L602.1 227.2L602.4 226.6L602.7 225.9L603.1 224.9L603.4 224.3L603.7 223.6L604.1 222.9L604.4 222.1L604.8 221.3L605.2 220.4L605.6 219.6L606.0 218.8L606.4 218.1L606.8 217.4L607.3 216.6L607.7 215.7L608.1 214.8L608.6 214.0L609.0 213.3L609.5 212.6L610.0 212.1L610.5 211.8L611.3 211.7L612.1 211.9L613.0 212.3L613.9 212.8L614.8 213.2L615.5 213.4L616.4 213.3L617.1 213.0L617.8 212.6L618.6 212.2L619.3 211.8L620.1 211.2L620.9 210.6L621.6 210.3L622.3 210.2L622.9 210.4L623.4 210.8L623.9 211.5L624.4 212.4L624.8 213.7L625.0 214.3L625.1 215.0L625.2 215.8L625.4 216.6L625.5 217.5L625.6 218.5L625.7 219.4L625.8 220.4L626.0 221.3L626.1 222.2L626.2 223.0L626.4 223.7L626.5 224.4L626.7 224.9L627.4 225.9L628.3 226.1L629.1 226.1L629.8 226.7L630.1 227.3L630.3 228.1L630.5 229.0L630.7 229.9L630.9 230.9L631.1 231.9L631.4 232.7L631.6 233.5L632.0 234.4L632.4 235.4L632.8 236.2L633.2 237.0L633.6 237.6L634.1 237.9L634.8 237.8L635.6 237.3L636.5 236.6L637.2 236.1L638.1 235.2L638.9 234.9L639.7 235.5L640.0 236.1L640.3 237.1L640.5 238.2L640.7 239.4L641.0 240.4L641.3 241.0L641.6 241.1L642.2 240.6L642.8 240.3L643.5 239.8L644.1 238.9L644.7 238.5L645.2 238.7L645.7 239.3L646.1 240.1L646.6 241.5L647.1 242.9L647.6 243.8L648.1 244.2L648.6 244.6L649.1 245.4L649.7 246.1L650.2 246.6L651.0 246.8L651.7 246.2L652.5 245.3L653.3 245.5L654.2 245.8L655.2 245.5L656.2 245.7L657.1 245.8L658.1 246.3L658.9 247.3L659.6 248.2L660.0 249.0L660.3 250.2L660.7 251.2L661.0 251.9L661.4 251.9L661.6 251.6L661.8 250.9L662.1 250.0L662.3 248.9L662.5 247.8L662.8 246.6L663.0 245.5L663.3 244.6L663.6 243.9L663.9 243.3L664.8 242.9L665.7 243.2L666.7 242.8L667.6 242.7L668.3 242.4L668.9 242.7L669.5 242.8L670.1 241.3L670.7 239.8L671.2 239.6L671.7 239.6L672.2 239.4L672.8 238.5L673.3 237.7L673.8 237.1L674.3 236.5L674.9 235.6L675.4 234.0L675.9 232.5L676.4 232.0L676.9 231.9L677.6 232.6L678.3 234.0L678.9 234.9L679.4 234.7L679.6 234.2L679.7 233.4L679.9 232.5L680.0 231.5L680.1 230.5L680.3 229.4L680.4 228.3L680.4 227.4L680.5 226.6L680.6 226.0L680.8 225.2L680.8 225.5" fill="none" stroke="#ff0000" stroke-width="2.75" stroke-linejoin="round" stroke-linecap="round"/>
<path d="M65.2 162.8L65.7 162.9L66.3 163.0L67.0 163.2L67.9 163.4L68.9 163.7L70.0 163.7L70.7 163.6L71.5 163.3L72.3 163.9L73.2 164.3L74.2 164.5L75.1 164.5L76.0 164.5L76.9 164.4L77.7 164.7L78.4 164.7L79.0 164.6L80.0 165.4L80.6 166.4L81.0 167.1L81.4 167.7L81.9 168.1L82.6 168.3L83.4 168.2L84.1 168.2L85.0 168.8L85.6 169.7L86.3 170.4L87.0 171.0L87.7 171.0L88.5 170.9L89.2 171.6L90.0 171.9L90.8 171.6L91.6 171.2L92.4 170.8L93.2 170.7L94.0 170.7L94.9 171.0L95.7 170.9L96.5 170.6L97.3 169.7L98.0 169.4L98.6 169.2L99.2 168.3L99.7 167.2L100.3 166.3L100.8 166.0L101.3 166.0L102.0 165.8L102.5 166.0L103.1 166.9L103.8 168.6L104.0 169.2L104.3 170.0L104.5 170.8L104.8 171.8L105.0 172.8L105.3 173.8L105.6 174.7L105.8 175.5L106.1 176.3L106.4 177.0L106.7 177.7L107.1 178.4L107.4 178.9L108.1 179.2L108.8 178.4L109.6 177.4L110.4 176.4L111.1 175.9L111.9 175.5L112.6 174.8L113.5 174.5L114.4 174.8L115.3 175.3L116.1 176.0L116.9 177.1L117.2 177.6L117.5 178.2L117.7 178.8L118.0 179.6L118.2 180.4L118.5 181.2L118.7 182.2L119.0 183.1L119.2 183.9L119.4 184.7L119.7 185.4L119.9 186.2L120.5 187.6L121.1 188.3L121.8 188.3L122.3 188.6L122.8 189.6L123.0 190.4L123.2 191.2L123.3 192.0L123.4 192.9L123.6 193.8L123.7 194.6L123.8 195.5L124.0 196.3L124.2 197.1L124.5 197.8L124.8 198.5L125.1 199.0L125.4 199.6L125.8 200.2L126.1 200.9L126.5 201.7L126.9 202.6L127.2 203.5L127.4 204.2L127.6 204.9L127.8 205.7L128.1 206.5L128.3 207.3L128.5 208.1L128.7 208.9L128.9 209.8L129.1 210.7L129.3 211.5L129.6 212.4L129.8 213.3L130.1 214.2L130.3 214.9L130.6 215.7L130.8 216.4L131.1 217.1L131.3 217.9L131.6 218.7L131.9 219.4L132.2 220.2L132.4 221.0L132.7 221.7L133.0 222.5L133.3 223.3L133.6 224.1L133.9 224.9L134.2 225.6L134.5 226.4L134.8 227.2L135.1 227.9L135.4 228.7L135.7 229.5L136.0 230.3L136.3 231.1L136.6 231.8L136.9 232.6L137.2 233.4L137.6 234.2L137.9 235.0L138.2 235.7L138.5 236.5L138.9 237.3L139.2 238.0L139.6 238.8L140.0 239.6L140.3 240.3L140.7 241.1L141.1 241.8L141.5 242.6L141.9 243.4L142.3 244.1L142.7 244.9L143.1 245.6L143.5 246.4L144.0 247.1L144.4 247.8L144.8 248.5L145.2 249.2L145.7 249.9L146.1 250.5L146.6 251.2L147.1 251.9L147.7 252.7L148.2 253.4L148.8 254.1L149.4 254.7L149.9 255.4L150.5 256.0L151.0 256.6L151.5 257.2L152.0 257.8L152.5 258.3L153.0 258.8L153.4 259.2L154.2 260.0L154.8 260.6L155.3 261.1L155.9 261.4L156.5 261.8L157.3 262.3L157.9 262.7L158.5 263.1L159.2 263.5L159.9 263.9L160.6 264.3L161.4 264.7L162.2 265.1L163.0 265.5L163.8 265.8L164.6 266.0L165.4 266.2L166.1 266.3L167.0 266.4L167.8 266.4L168.7 266.5L169.5 266.5L170.4 266.4L171.2 266.4L172.0 266.4L172.7 266.3L173.4 266.3L174.4 266.2L175.3 266.1L176.2 266.0L177.0 265.8L177.8 265.6L178.5 265.4L179.2 265.1L180.0 264.7L180.6 264.2L181.2 263.6L181.9 263.1L182.8 262.6L183.5 262.4L184.3 262.2L185.1 262.1L186.0 261.9L186.9 261.8L187.8 261.6L188.8 261.4L189.7 261.1L190.5 260.8L191.2 260.5L191.9 260.1L192.6 259.6L193.3 259.2L193.9 258.7L194.6 258.2L195.3 257.7L195.9 257.2L196.6 256.7L197.3 256.2L197.9 255.8L198.5 255.4L199.1 254.9L199.7 254.5L200.3 254.1L201.0 253.7L201.6 253.2L202.3 252.8L203.0 252.3L203.8 251.7L204.6 251.1L205.1 250.7L205.7 250.3L206.3 249.8L206.9 249.4L207.6 248.9L208.2 248.4L208.9 247.9L209.6 247.4L210.3 246.9L211.0 246.4L211.7 245.9L212.3 245.4L213.0 244.8L213.7 244.3L214.4 243.8L215.0 243.3L215.7 242.8L216.3 242.3L217.0 241.7L217.7 241.2L218.3 240.6L219.0 240.1L219.7 239.5L220.4 238.9L221.0 238.3L221.7 237.8L222.3 237.2L223.0 236.7L223.6 236.1L224.2 235.6L224.8 235.1L225.4 234.6L225.9 234.1L226.5 233.6L227.3 232.9L228.0 232.3L228.7 231.7L229.4 231.2L230.1 230.6L230.7 230.1L231.4 229.6L232.0 229.1L232.6 228.6L233.2 228.1L233.8 227.7L234.6 227.1L235.4 226.5L236.1 225.9L236.8 225.3L237.5 224.9L238.2 224.5L238.9 224.2L239.6 224.1L240.3 224.1L241.1 224.3L241.8 224.5L242.6 224.9L243.3 225.3L244.0 225.8L244.8 226.4L245.5 227.0L246.0 227.5L246.6 228.1L247.2 228.8L247.7 229.6L248.3 230.4L248.9 231.1L249.4 231.9L249.9 232.6L250.4 233.3L250.9 233.8L251.3 234.3L252.4 235.3L253.2 235.6L254.2 235.5L254.8 235.2L255.6 234.8L256.3 234.2L257.1 233.6L257.8 233.0L258.6 232.4L259.4 231.9L260.1 231.5L260.9 231.0L261.6 230.5L262.4 229.9L263.0 229.2L263.4 228.6L263.7 228.0L264.0 227.2L264.3 226.5L264.6 225.7L264.9 224.9L265.2 224.1L265.5 223.3L265.9 222.6L266.3 221.9L266.8 221.1L267.2 220.3L267.7 219.6L268.2 218.8L268.7 218.1L269.2 217.4L269.7 216.7L270.3 216.1L270.9 215.5L271.5 214.9L272.1 214.4L272.7 213.9L273.3 213.4L274.0 213.0L274.7 212.5L275.4 212.1L276.1 211.7L276.8 211.3L277.6 211.0L278.4 210.8L279.3 210.5L280.1 210.3L281.0 210.0L281.8 209.7L282.6 209.4L283.4 209.1L284.2 208.7L284.9 208.3L285.7 207.9L286.4 207.4L287.2 206.9L287.9 206.5L288.6 206.0L289.3 205.5L290.0 205.1L290.8 204.6L291.6 204.1L292.3 203.7L293.1 203.2L293.9 202.8L294.6 202.3L295.3 201.9L295.9 201.5L296.6 201.1L297.0 200.8L297.4 200.5L297.9 200.1L298.7 199.6L300.0 198.9L300.5 198.6L301.0 198.3L301.6 198.0L302.2 197.6L302.9 197.3L303.6 196.9L304.3 196.5L305.1 196.1L305.9 195.7L306.6 195.2L307.4 194.8L308.3 194.4L309.1 193.9L309.9 193.5L310.7 193.0L311.5 192.6L312.3 192.2L313.1 191.7L313.9 191.3L314.6 190.9L315.3 190.5L316.1 190.1L316.8 189.7L317.5 189.2L318.3 188.8L319.0 188.4L319.7 188.0L320.4 187.5L321.2 187.1L321.9 186.7L322.6 186.2L323.4 185.8L324.1 185.4L324.8 185.0L325.5 184.6L326.3 184.2L327.0 183.9L327.7 183.5L328.5 183.1L329.2 182.8L330.0 182.5L330.7 182.1L331.5 181.8L332.3 181.5L333.0 181.2L333.8 180.9L334.6 180.6L335.3 180.4L336.1 180.1L336.9 179.8L337.7 179.6L338.4 179.3L339.2 179.1L340.0 178.9L340.7 178.6L341.5 178.4L342.3 178.2L343.0 177.9L343.8 177.7L344.6 177.5L345.4 177.2L346.3 177.0L347.1 176.8L348.0 176.6L348.8 176.3L349.7 176.1L350.5 175.9L351.4 175.7L352.2 175.5L353.0 175.3L353.9 175.1L354.7 175.0L355.5 174.8L356.2 174.6L357.0 174.4L357.7 174.3L358.4 174.1L359.3 173.9L360.2 173.7L361.1 173.5L361.9 173.3L362.7 173.1L363.5 172.9L364.2 172.7L365.0 172.6L365.7 172.4L366.4 172.3L367.2 172.1L367.9 172.0L368.6 171.9L369.5 171.8L370.3 171.7L371.1 171.6L371.9 171.5L372.7 171.4L373.5 171.3L374.3 171.3L375.0 171.2L375.8 171.2L376.6 171.2L377.4 171.2L378.3 171.2L379.2 171.3L380.1 171.5L381.0 171.6L381.8 171.8L382.7 172.0L383.6 172.1L384.5 172.2L385.3 172.2L386.1 172.2L387.0 172.1L387.9 171.9L388.8 171.6L389.8 171.3L390.6 171.0L391.4 170.6L392.2 170.3L392.8 170.1L393.4 169.9L394.2 169.9L395.0 169.8L395.6 169.6L396.2 169.3L397.0 168.9L397.9 168.5L398.7 168.1L399.7 168.0L400.6 168.0L401.5 167.1L402.3 166.4L403.0 166.0L403.8 166.1L404.5 165.9L405.2 165.0L405.9 164.5L406.7 164.5L407.4 164.1L408.1 163.6L408.9 163.2L409.6 162.9L410.3 162.6L411.1 162.2L411.8 161.5L412.5 161.2L413.3 160.9L414.0 160.2L414.7 159.4L415.4 159.5L416.2 159.5L416.9 159.0L417.7 158.6L418.6 158.4L419.4 157.6L420.2 157.2L421.1 157.3L421.9 157.2L422.7 156.8L423.5 155.9L424.2 155.5L425.1 155.4L426.0 155.3L426.8 155.3L427.6 155.3L428.4 154.8L429.2 154.3L430.0 154.1L430.8 154.0L431.6 153.9L432.4 154.1L433.3 154.2L434.1 154.2L435.0 153.9L435.9 153.7L436.7 153.6L437.5 153.6L438.3 153.6L439.2 153.6L440.1 153.6L440.9 153.6L441.7 153.4L442.5 153.7L443.2 154.1L444.1 154.7L444.9 155.2L445.5 155.3L446.2 155.7L446.9 156.4L447.6 156.8L448.3 156.8L449.1 157.3L449.9 158.0L450.6 158.5L451.4 158.9L452.1 159.3L452.7 159.8L453.2 160.3L453.7 161.0L454.1 161.8L454.4 162.6L454.8 163.4L455.2 164.1L455.6 164.8L456.3 165.5L457.1 166.0L457.9 166.2L458.6 166.2L459.2 166.7L459.6 167.3L459.8 167.9L460.0 168.6L460.2 169.6L460.5 170.9L460.6 171.5L460.8 172.2L461.0 172.9L461.1 173.7L461.3 174.5L461.5 175.3L461.7 176.1L461.9 177.0L462.1 177.9L462.3 178.8L462.5 179.8L462.8 180.7L463.0 181.7L463.2 182.4L463.4 183.2L463.5 183.9L463.7 184.7L463.9 185.5L464.1 186.3L464.4 187.2L464.6 188.0L464.8 188.8L465.0 189.7L465.2 190.6L465.4 191.4L465.6 192.2L465.9 193.1L466.1 193.9L466.3 194.7L466.5 195.5L466.7 196.3L466.9 197.2L467.2 198.1L467.4 199.0L467.6 199.9L467.9 200.8L468.1 201.7L468.4 202.6L468.6 203.5L468.8 204.4L469.1 205.2L469.3 206.0L469.5 206.8L469.7 207.5L469.9 208.2L470.1 208.8L470.3 209.4L470.7 210.8L471.1 211.9L471.4 212.8L471.8 213.4L472.1 213.8L472.5 213.8L472.8 213.6L473.2 213.3L473.5 212.8L473.9 212.1L474.2 211.3L474.6 210.3L475.0 209.2L475.4 208.0L475.6 207.4L475.8 206.7L476.0 206.0L476.2 205.2L476.4 204.4L476.6 203.6L476.8 202.7L477.0 201.8L477.2 200.9L477.5 200.0L477.7 199.1L477.9 198.2L478.1 197.3L478.3 196.5L478.5 195.6L478.7 194.8L478.9 194.1L479.1 193.4L479.4 192.4L479.6 191.4L479.9 190.5L480.2 189.6L480.4 188.7L480.6 187.9L480.9 187.1L481.1 186.3L481.3 185.7L481.6 185.0L481.8 184.5L482.0 184.0L482.8 182.6L483.4 181.9L484.2 181.6L484.7 181.8L485.3 182.4L485.9 183.1L486.5 183.8L487.1 184.2L488.1 184.6L489.0 184.8L490.0 184.5L490.7 184.1L491.5 183.6L492.3 183.4L493.0 183.3L494.0 183.5L494.9 184.4L495.9 184.6L496.9 184.2L497.9 184.0L498.8 183.9L499.2 184.4L499.6 185.0L499.9 185.9L500.3 186.8L500.6 187.9L501.0 189.0L501.2 189.7L501.4 190.4L501.6 191.1L501.8 191.9L502.0 192.7L502.2 193.5L502.4 194.3L502.6 195.2L502.8 196.0L503.0 196.9L503.2 197.7L503.4 198.5L503.6 199.3L503.8 200.2L503.9 201.1L504.1 202.0L504.3 202.9L504.5 203.7L504.7 204.5L504.8 205.3L505.0 206.0L505.2 206.7L505.4 207.2L506.1 208.3L506.8 208.7L507.6 209.4L507.9 210.1L508.2 210.9L508.6 212.0L508.9 213.0L509.3 214.0L509.6 214.7L509.9 215.2L510.2 215.3L510.4 215.0L510.6 214.5L510.8 213.7L511.0 212.8L511.2 211.8L511.4 210.7L511.6 209.7L511.8 208.7L512.0 207.9L512.2 207.2L512.7 206.0L513.2 205.0L513.6 204.4L514.1 204.3L514.5 204.6L514.9 205.1L515.2 205.9L515.6 206.9L516.0 208.0L516.2 208.7L516.4 209.4L516.7 210.3L516.9 211.2L517.1 212.1L517.4 213.0L517.6 213.8L517.9 214.6L518.1 215.3L518.6 216.5L519.0 217.6L519.5 218.5L520.0 219.2L520.4 219.3L520.7 219.0L520.9 218.3L521.2 217.5L521.4 216.5L521.7 215.5L521.9 214.5L522.2 213.8L522.7 212.8L523.2 211.9L523.8 211.2L524.3 210.9L525.0 211.2L525.7 212.0L526.5 212.6L527.4 212.9L528.4 213.2L529.4 213.2L530.2 212.6L530.5 212.1L530.7 211.4L530.8 210.6L531.0 209.7L531.1 208.7L531.2 207.7L531.3 206.8L531.4 205.8L531.6 205.0L531.8 204.1L532.0 203.1L532.2 202.2L532.5 201.3L532.7 200.4L533.0 199.6L533.2 199.0L533.5 198.5L534.3 198.1L535.1 198.3L536.0 198.5L537.0 198.1L538.0 197.5L538.9 197.4L539.5 197.7L540.0 198.4L540.5 199.1L541.1 199.9L541.7 200.6L542.3 201.3L542.9 202.1L543.5 202.9L544.1 203.6L544.8 204.3L545.5 204.8L546.1 205.4L546.7 206.5L546.9 207.1L547.1 207.7L547.3 208.5L547.5 209.3L547.7 210.1L547.8 210.9L548.0 211.8L548.2 212.7L548.4 213.6L548.6 214.4L548.8 215.2L549.0 216.0L549.3 216.8L549.5 217.6L549.8 218.4L550.0 219.2L550.3 220.0L550.5 220.8L550.8 221.6L551.0 222.4L551.2 223.2L551.4 224.0L551.6 224.9L551.7 225.7L551.9 226.5L552.0 227.3L552.2 228.1L552.3 228.9L552.5 229.7L552.6 230.5L552.8 231.3L553.0 232.1L553.2 233.0L553.3 233.8L553.5 234.6L553.7 235.5L553.9 236.3L554.1 237.2L554.3 238.0L554.5 238.9L554.7 239.8L554.9 240.6L555.0 241.5L555.2 242.4L555.4 243.4L555.6 244.3L555.8 245.3L556.0 246.2L556.2 247.0L556.3 247.8L556.5 248.4L556.7 248.9L556.9 249.3L557.5 249.2L558.0 248.1L558.5 246.8L559.1 246.4L559.4 246.7L559.7 247.3L560.0 248.1L560.3 249.0L560.6 250.0L560.9 251.1L561.3 252.2L561.5 252.9L561.7 253.7L562.0 254.5L562.2 255.5L562.4 256.4L562.7 257.3L562.9 258.2L563.2 259.1L563.4 259.9L563.7 260.6L563.9 261.2L564.2 261.7L565.1 262.2L566.0 261.8L566.9 261.3L567.8 261.4L568.3 261.9L568.7 262.5L569.1 263.3L569.5 264.2L569.9 265.1L570.4 266.0L570.8 266.8L571.2 267.6L571.6 268.5L572.0 269.5L572.4 270.5L572.9 271.3L573.3 272.0L573.7 272.5L574.1 272.7L574.5 272.5L574.9 272.0L575.2 271.3L575.6 270.4L576.0 269.5L576.4 268.5L576.8 267.6L577.3 266.8L577.8 266.1L578.4 265.5L579.0 264.9L579.6 264.3L580.2 263.7L580.8 263.1L581.4 262.4L582.0 261.7L582.4 261.1L582.9 260.4L583.3 259.8L583.7 259.1L584.2 258.4L584.6 257.7L585.0 256.9L585.4 256.1L585.7 255.3L586.1 254.4L586.3 253.7L586.6 253.1L586.8 252.3L587.0 251.6L587.2 250.9L587.5 250.1L587.7 249.3L587.9 248.5L588.1 247.7L588.2 246.9L588.4 246.1L588.6 245.2L588.8 244.4L589.0 243.5L589.2 242.8L589.3 242.1L589.5 241.3L589.6 240.6L589.7 239.8L589.9 239.1L590.0 238.3L590.2 237.5L590.3 236.7L590.4 235.9L590.6 235.1L590.7 234.3L590.8 233.5L591.0 232.6L591.1 231.8L591.3 230.9L591.4 230.0L591.5 229.3L591.6 228.5L591.7 227.8L591.8 227.0L592.0 226.3L592.1 225.5L592.2 224.7L592.3 223.9L592.4 223.1L592.5 222.3L592.6 221.5L592.7 220.7L592.8 219.9L593.0 219.1L593.1 218.3L593.2 217.4L593.3 216.6L593.4 215.7L593.6 214.9L593.7 214.1L593.8 213.2L593.9 212.4L594.0 211.7L594.1 210.9L594.3 210.0L594.4 209.2L594.5 208.4L594.6 207.5L594.7 206.7L594.9 205.8L595.0 204.9L595.1 204.1L595.2 203.2L595.3 202.3L595.5 201.5L595.6 200.7L595.7 199.9L595.8 199.1L596.0 198.3L596.1 197.5L596.2 196.8L596.3 196.1L596.5 195.4L596.6 194.8L596.7 194.2L597.0 193.0L597.2 191.9L597.5 190.9L597.7 190.0L598.0 189.1L598.2 188.4L598.5 187.7L598.8 187.0L599.0 186.5L599.3 185.9L599.6 185.4L600.3 184.6L601.1 184.3L601.8 184.2L602.6 183.9L603.2 183.2L603.5 182.6L603.7 181.9L603.9 181.1L604.1 180.2L604.3 179.3L604.5 178.4L604.7 177.5L604.9 176.6L605.1 175.8L605.4 175.2L605.9 174.3L606.5 173.4L607.1 172.7L607.7 172.2L608.4 171.8L609.1 171.6L609.7 171.7L610.4 172.1L611.2 172.6L611.9 173.1L612.7 173.7L613.4 174.2L614.2 174.5L615.0 174.6L615.8 174.5L616.7 174.3L617.5 174.1L618.4 173.9L619.2 173.9L620.0 174.1L620.7 174.4L621.3 174.8L622.0 175.3L622.6 175.9L623.2 176.5L623.8 177.2L624.5 178.0L625.1 178.9L625.5 179.5L625.9 180.1L626.3 180.7L626.7 181.4L627.2 182.1L627.6 182.9L628.0 183.7L628.4 184.4L628.8 185.2L629.2 186.0L629.6 186.8L630.0 187.6L630.3 188.4L630.6 189.2L630.9 189.9L631.2 190.8L631.4 191.6L631.7 192.5L631.9 193.3L632.1 194.2L632.4 195.0L632.6 195.9L632.9 196.7L633.1 197.4L633.4 198.1L633.6 198.7L633.9 199.3L634.5 200.2L635.2 200.9L635.8 201.4L636.5 201.8L637.2 202.2L637.8 202.6L638.3 203.2L638.7 203.9L639.1 204.7L639.4 205.6L639.7 206.5L639.9 207.3L640.2 208.1L640.5 208.8L640.9 209.8L641.3 210.7L641.8 211.6L642.2 212.2L642.7 212.4L643.2 212.0L643.8 211.1L644.4 210.0L645.0 209.1L645.6 208.8L646.1 209.1L646.6 209.7L647.0 210.5L647.5 211.5L648.0 212.4L648.5 213.2L649.0 214.0L649.4 214.8L649.9 215.7L650.3 216.4L650.8 217.0L651.4 217.3L652.1 217.2L652.8 216.7L653.6 216.1L654.4 215.4L655.1 214.8L655.8 214.6L656.6 214.8L657.4 215.3L658.0 216.1L658.7 216.8L659.3 217.6L659.9 218.6L660.5 219.4L661.2 219.7L661.7 219.4L662.3 218.8L662.8 218.1L663.4 217.3L664.0 216.5L664.6 216.1L665.5 216.0L666.4 216.2L667.3 216.4L668.2 216.4L668.9 216.1L669.7 215.7L670.4 215.2L671.2 214.6L671.9 213.9L672.4 213.3L673.0 212.7L673.5 212.1L674.0 211.4L674.5 210.6L675.0 209.7L675.5 208.8L675.8 208.1L676.1 207.4L676.3 206.6L676.6 205.8L676.9 205.0L677.1 204.1L677.4 203.2L677.6 202.4L677.9 201.6L678.1 200.8L678.4 200.0L678.7 199.1L679.1 198.1L679.5 197.2L679.9 196.3L680.3 195.4L680.6 194.5L680.9 193.8L681.2 193.2L681.4 192.7" fill="none" stroke="#1767e0" stroke-width="2.6" stroke-linejoin="round" stroke-linecap="round"/>
<path d="M65.2 54.0L65.5 54.3L66.6 55.2L67.1 55.5L67.7 55.9L68.4 56.4L69.1 56.9L69.9 57.4L70.7 58.0L71.5 58.5L72.3 59.0L73.0 59.5L73.7 59.9L74.4 60.3L75.1 60.9L75.8 61.3L76.5 61.5L77.1 61.9L77.8 62.4L78.4 63.1L79.0 63.9L79.6 64.5L80.1 64.9L80.5 65.4L81.0 66.1L81.4 66.9L81.9 67.7L82.4 68.6L82.9 69.5L83.4 70.2L83.9 70.4L84.5 70.6L85.0 71.3L85.6 72.0L86.2 72.7L86.8 73.5L87.4 74.4L88.0 75.4L88.6 76.2L89.2 76.6L89.9 77.1L90.7 77.3L91.5 77.7L92.2 78.2L93.0 78.5L93.7 78.8L94.4 79.3L95.0 79.6L95.9 79.4L96.8 79.7L97.5 80.1L98.3 80.0L99.0 80.0L99.9 79.5L100.8 78.7L101.6 78.0L102.3 78.0L102.8 78.2L103.3 78.7L103.7 79.4L104.1 80.4L104.5 81.5L104.7 82.1L104.9 82.9L105.1 83.6L105.3 84.5L105.5 85.3L105.7 86.2L105.9 87.2L106.1 88.1L106.3 89.1L106.5 90.0L106.7 90.8L106.8 91.6L107.0 92.5L107.2 93.4L107.3 94.3L107.5 95.3L107.7 96.2L107.9 97.1L108.1 97.9L108.3 98.6L108.5 99.3L108.7 99.8L108.9 100.2L109.6 100.5L110.3 100.2L111.0 99.4L111.8 98.7L112.5 98.4L113.3 98.5L114.1 98.9L114.9 99.6L115.6 100.4L116.0 101.0L116.4 101.6L116.9 102.3L117.3 103.1L117.7 104.0L118.0 105.0L118.4 106.1L118.6 106.7L118.8 107.4L118.9 108.1L119.1 108.9L119.2 109.7L119.4 110.5L119.5 111.3L119.7 112.2L119.8 113.0L120.0 113.9L120.1 114.7L120.3 115.5L120.5 116.3L120.7 117.1L120.9 117.8L121.1 118.6L121.4 119.3L121.6 120.1L121.8 120.8L122.1 121.6L122.3 122.4L122.6 123.1L122.8 123.9L123.0 124.8L123.3 125.6L123.5 126.5L123.7 127.3L123.9 128.0L124.1 128.9L124.2 129.7L124.4 130.6L124.6 131.4L124.8 132.3L125.0 133.2L125.2 134.1L125.3 135.0L125.5 135.9L125.7 136.7L125.8 137.5L126.0 138.3L126.2 139.1L126.3 139.8L126.5 140.8L126.7 141.7L126.8 142.5L126.9 143.3L127.1 144.1L127.2 144.9L127.3 145.6L127.5 146.4L127.6 147.1L127.8 148.0L128.0 148.8L128.2 149.6L128.4 150.3L128.6 151.1L128.8 151.9L129.0 152.8L129.2 153.6L129.4 154.4L129.6 155.2L129.9 156.0L130.1 156.8L130.4 157.6L130.6 158.3L130.9 159.0L131.3 159.9L131.7 160.7L132.1 161.5L132.5 162.3L132.9 163.0L133.4 163.7L133.8 164.4L134.3 165.1L134.8 165.7L135.3 166.3L136.0 167.0L136.6 167.6L137.3 168.2L138.0 168.7L138.8 169.2L139.5 169.7L140.4 170.1L141.2 170.4L141.9 170.6L142.7 170.8L143.5 170.9L144.3 171.0L145.1 171.1L145.9 171.1L146.8 171.2L147.6 171.2L148.4 171.3L149.2 171.4L150.0 171.5L150.9 171.6L151.7 171.8L152.5 171.9L153.3 172.0L154.1 172.1L154.9 172.3L155.7 172.5L156.5 172.8L157.2 173.1L158.0 173.4L158.7 173.7L159.4 174.0L160.2 174.4L160.9 174.8L161.6 175.2L162.3 175.6L163.1 176.0L163.8 176.5L164.5 176.9L165.1 177.4L165.8 177.9L166.5 178.4L167.1 178.9L167.8 179.4L168.4 180.0L169.1 180.6L169.8 181.1L170.4 181.7L171.1 182.3L171.7 182.9L172.3 183.5L173.0 184.1L173.6 184.7L174.2 185.4L174.8 186.0L175.5 186.7L176.1 187.3L176.7 187.9L177.3 188.5L177.8 189.1L178.4 189.6L179.1 190.2L179.8 190.8L180.4 191.3L181.0 191.8L181.6 192.3L182.2 192.8L182.8 193.2L183.5 193.6L184.2 194.0L184.9 194.4L185.7 194.8L186.5 195.2L187.3 195.5L188.1 195.9L188.9 196.2L189.7 196.5L190.6 196.7L191.5 196.9L192.2 197.0L193.0 197.1L193.8 197.2L194.6 197.3L195.4 197.3L196.2 197.3L197.0 197.3L197.9 197.3L198.7 197.3L199.5 197.3L200.3 197.2L201.1 197.1L201.9 197.0L202.7 196.9L203.6 196.8L204.4 196.6L205.2 196.5L206.0 196.3L206.8 196.1L207.6 195.9L208.4 195.7L209.1 195.5L210.0 195.2L210.9 194.9L211.8 194.6L212.7 194.3L213.5 194.0L214.3 193.7L215.1 193.4L215.8 193.1L216.4 192.8L217.5 192.3L218.4 192.0L219.1 191.6L220.0 191.1L220.7 190.7L221.3 190.4L222.0 190.0L222.7 189.5L223.6 189.0L224.6 188.3L225.1 187.9L225.8 187.5L226.4 187.1L227.1 186.7L227.8 186.2L228.6 185.7L229.3 185.2L230.0 184.7L230.8 184.2L231.5 183.7L232.2 183.3L232.8 182.8L233.4 182.4L234.2 181.8L234.9 181.2L235.6 180.7L236.2 180.1L236.8 179.6L237.4 179.1L238.0 178.7L238.6 178.4L239.2 178.1L240.1 177.8L241.0 177.7L241.8 177.7L242.6 177.8L243.5 178.0L244.3 178.4L244.9 178.8L245.6 179.3L246.2 179.8L246.9 180.5L247.5 181.1L248.2 181.8L248.8 182.5L249.4 183.2L249.9 183.8L250.5 184.5L251.0 185.2L251.5 185.9L252.0 186.7L252.5 187.3L253.0 188.0L253.4 188.5L253.8 189.0L254.7 190.0L255.5 190.5L256.4 190.5L257.0 190.3L257.6 190.0L258.3 189.6L259.0 189.1L259.7 188.4L260.4 187.6L260.8 187.1L261.2 186.4L261.6 185.8L262.1 185.1L262.5 184.3L262.9 183.5L263.3 182.7L263.8 181.9L264.2 181.1L264.7 180.3L265.1 179.6L265.5 178.9L265.9 178.2L266.3 177.4L266.8 176.6L267.2 175.9L267.6 175.1L268.1 174.3L268.5 173.6L269.0 172.9L269.4 172.2L269.9 171.5L270.5 170.7L271.0 170.0L271.6 169.3L272.2 168.6L272.8 167.9L273.4 167.3L273.9 166.6L274.5 166.0L275.1 165.5L275.7 164.9L276.3 164.3L277.0 163.8L277.6 163.2L278.3 162.7L278.9 162.3L279.6 161.8L280.2 161.4L280.9 160.9L281.5 160.5L282.2 160.0L282.9 159.6L283.6 159.3L284.4 158.9L285.1 158.5L285.8 158.0L286.6 157.5L287.4 156.9L288.0 156.4L288.5 155.9L289.1 155.4L289.7 154.8L290.3 154.2L291.0 153.5L291.6 152.9L292.2 152.2L292.8 151.6L293.5 150.9L294.1 150.2L294.7 149.6L295.3 149.0L295.8 148.4L296.4 147.8L297.0 147.2L297.6 146.5L298.2 145.9L298.7 145.3L299.3 144.6L299.9 144.0L300.4 143.4L301.0 142.8L301.5 142.2L302.0 141.6L302.6 140.9L303.1 140.3L303.6 139.6L304.1 138.9L304.6 138.3L305.1 137.7L305.6 137.0L306.1 136.4L306.6 135.8L307.1 135.2L307.6 134.6L308.1 134.0L308.7 133.4L309.3 132.8L309.8 132.3L310.4 131.7L311.0 131.1L311.6 130.6L312.2 130.0L312.8 129.5L313.4 128.9L314.0 128.4L314.6 127.9L315.3 127.4L315.9 126.9L316.6 126.4L317.3 125.9L317.9 125.4L318.6 124.9L319.3 124.3L320.0 123.8L320.6 123.2L321.3 122.6L321.9 122.1L322.4 121.5L323.0 120.9L323.5 120.3L324.1 119.6L324.7 119.0L325.2 118.4L325.8 117.7L326.4 117.1L326.9 116.4L327.5 115.8L328.0 115.1L328.6 114.5L329.2 113.9L329.7 113.2L330.3 112.6L330.9 112.0L331.4 111.4L332.0 110.8L332.6 110.1L333.2 109.5L333.7 109.0L334.3 108.4L334.8 107.7L335.4 107.0L335.9 106.5L336.5 106.0L337.2 105.3L337.8 104.5L338.5 103.7L339.2 102.9L339.8 102.2L340.4 101.5L341.0 100.9L341.5 100.3L342.0 99.9L342.4 99.8L343.2 100.2L343.7 101.0L344.1 102.1L344.6 102.7L345.6 103.2L346.6 103.0L347.6 102.6L348.3 102.0L348.9 101.2L349.7 100.5L350.5 100.4L351.5 100.2L352.5 99.7L353.4 99.4L353.8 98.9L354.2 98.2L354.5 97.4L354.9 96.6L355.2 95.8L355.5 95.0L355.9 94.2L356.3 93.4L356.7 92.7L357.1 91.9L357.5 91.0L357.9 90.3L358.3 89.5L358.7 88.8L359.1 88.0L359.6 87.3L360.0 86.6L360.7 85.9L361.3 85.4L362.0 85.1L362.7 84.9L363.4 84.3L364.3 83.8L365.0 83.7L365.8 83.5L366.6 83.2L367.4 83.0L368.3 82.8L369.1 82.6L370.0 82.4L370.9 82.3L371.7 82.3L372.5 82.0L373.3 81.6L374.1 81.2L374.9 80.8L375.8 80.5L376.6 80.2L377.4 79.8L378.2 79.3L379.1 79.4L380.1 79.5L381.0 79.5L382.0 79.7L382.9 79.9L383.7 80.2L384.6 80.2L385.3 80.2L386.3 80.1L387.1 79.7L387.8 79.5L388.5 79.4L389.4 78.9L390.0 78.5L390.6 78.0L391.2 77.5L391.9 76.9L392.5 76.2L393.2 75.6L393.9 75.1L394.5 74.3L395.2 73.6L395.9 73.3L396.5 73.0L397.2 72.4L397.8 71.8L398.5 71.4L399.1 71.0L399.8 70.6L400.4 70.1L401.1 69.5L401.6 68.9L402.2 68.2L402.7 67.5L403.2 66.8L403.7 66.1L404.3 65.4L404.8 64.7L405.3 64.0L405.8 63.3L406.4 62.7L406.9 62.1L407.4 61.5L407.9 60.9L408.3 60.3L408.8 59.5L409.3 58.8L409.8 58.0L410.3 57.2L410.8 56.4L411.2 55.8L411.7 55.1L412.2 54.5L412.7 54.1L413.4 53.5L414.0 52.7L414.7 51.9L415.3 51.4L416.0 50.9L416.6 50.3L417.3 49.6L417.9 49.2L418.6 48.7L419.3 48.3L419.9 47.9L420.6 47.4L421.3 46.9L421.9 46.4L422.6 45.8L423.2 45.3L423.8 44.8L424.4 44.6L425.2 44.2L426.0 43.6L426.7 43.1L427.4 42.6L428.1 42.2L428.8 41.9L429.7 42.0L430.6 42.2L431.4 42.1L432.3 42.1L433.2 42.0L434.1 41.9L435.1 41.8L436.0 41.8L436.9 41.8L437.6 42.0L438.4 42.5L439.0 43.2L439.7 43.7L440.5 44.1L441.5 44.0L442.5 44.0L443.4 44.2L443.9 44.5L444.4 44.9L444.9 45.5L445.3 46.2L445.8 47.1L446.3 48.0L446.6 48.6L447.0 49.2L447.4 49.9L447.8 50.7L448.1 51.4L448.5 52.2L448.9 52.9L449.3 53.7L449.7 54.5L450.0 55.4L450.2 56.1L450.5 56.8L450.7 57.5L451.0 58.2L451.2 58.9L451.4 59.7L451.6 60.5L451.8 61.3L452.0 62.1L452.2 63.0L452.5 63.8L452.7 64.8L452.9 65.7L453.1 66.4L453.2 67.2L453.4 68.0L453.5 68.8L453.7 69.6L453.9 70.5L454.0 71.3L454.2 72.2L454.4 73.1L454.5 74.0L454.7 74.9L454.8 75.7L455.0 76.6L455.2 77.4L455.3 78.2L455.5 78.9L455.6 79.6L455.8 80.3L456.1 81.3L456.3 82.3L456.6 83.1L456.9 83.9L457.2 84.7L457.5 85.5L457.7 86.2L458.0 86.9L458.3 87.6L458.5 88.3L458.7 89.0L458.9 89.9L459.1 90.7L459.3 91.5L459.4 92.3L459.6 93.0L459.7 93.8L459.8 94.7L460.0 95.6L460.2 96.5L460.3 97.2L460.5 97.9L460.7 98.6L460.8 99.3L461.0 100.1L461.2 100.9L461.3 101.6L461.5 102.4L461.7 103.3L461.9 104.1L462.1 104.9L462.2 105.8L462.4 106.7L462.5 107.4L462.7 108.2L462.8 108.9L462.9 109.7L463.1 110.5L463.2 111.3L463.3 112.1L463.5 112.9L463.6 113.7L463.7 114.5L463.9 115.4L464.0 116.2L464.1 117.1L464.3 118.0L464.4 118.9L464.6 119.8L464.7 120.5L464.9 121.3L465.0 122.1L465.1 123.0L465.3 123.8L465.4 124.7L465.6 125.5L465.7 126.4L465.9 127.3L466.0 128.2L466.2 129.0L466.3 129.9L466.5 130.7L466.6 131.6L466.8 132.4L466.9 133.2L467.1 133.9L467.2 134.6L467.4 135.3L467.5 135.9L467.8 137.0L468.1 138.1L468.4 139.0L468.7 139.9L469.0 140.7L469.3 141.4L469.6 142.1L469.9 142.7L470.2 143.3L470.4 143.9L470.9 145.2L471.3 146.4L471.7 147.1L472.2 147.3L472.6 147.1L473.0 146.8L473.4 146.2L473.9 145.4L474.3 144.4L474.8 143.2L475.0 142.7L475.2 142.1L475.4 141.4L475.5 140.8L475.7 140.1L475.9 139.3L476.1 138.6L476.3 137.8L476.5 137.0L476.7 136.1L476.9 135.2L477.1 134.3L477.3 133.4L477.5 132.5L477.7 131.5L477.8 130.8L478.0 130.1L478.1 129.3L478.3 128.6L478.4 127.8L478.5 126.9L478.7 126.1L478.8 125.2L479.0 124.4L479.1 123.5L479.2 122.6L479.4 121.7L479.5 120.9L479.7 120.0L479.8 119.2L479.9 118.4L480.1 117.6L480.2 116.8L480.3 116.0L480.5 115.3L480.6 114.6L480.7 114.0L480.9 112.9L481.1 111.9L481.3 110.9L481.5 110.0L481.6 109.1L481.8 108.3L482.0 107.6L482.1 106.9L482.3 106.2L482.5 105.6L482.6 105.0L482.8 104.5L483.3 103.2L483.9 102.3L484.4 101.8L485.0 101.6L485.7 101.8L486.4 102.3L487.1 103.1L487.7 104.1L488.0 104.7L488.2 105.4L488.4 106.1L488.5 106.9L488.7 107.8L488.9 108.6L489.1 109.5L489.4 110.3L489.7 111.0L490.0 111.8L490.3 112.5L490.6 113.3L491.0 114.0L491.3 114.8L491.7 115.5L492.0 116.2L492.3 116.9L492.7 117.9L493.1 118.9L493.4 119.9L493.7 120.8L494.1 121.5L494.5 122.0L495.4 122.0L496.5 121.2L497.4 121.0L498.0 121.3L498.6 121.8L499.1 122.7L499.6 124.2L499.8 124.8L499.9 125.4L500.1 126.1L500.2 126.8L500.4 127.6L500.5 128.5L500.6 129.3L500.8 130.2L500.9 131.1L501.1 132.0L501.2 132.9L501.4 133.8L501.5 134.7L501.7 135.5L501.9 136.3L502.0 137.2L502.2 138.1L502.3 138.9L502.5 139.8L502.6 140.7L502.8 141.6L503.0 142.4L503.1 143.3L503.3 144.1L503.4 144.9L503.6 145.7L503.7 146.4L503.9 147.1L504.1 148.1L504.3 149.0L504.5 149.9L504.8 150.6L505.0 151.4L505.2 152.1L505.4 152.8L505.7 153.4L506.0 154.0L506.5 154.9L507.2 155.9L507.8 156.8L508.5 157.5L509.2 157.9L509.7 158.0L510.1 157.7L510.5 157.2L510.8 156.5L511.1 155.6L511.4 154.6L511.6 153.5L511.9 152.5L512.1 151.7L512.3 150.9L512.4 150.0L512.6 149.0L512.7 148.1L512.9 147.1L513.0 146.2L513.2 145.4L513.3 144.6L513.5 144.0L514.0 142.5L514.6 141.7L515.1 141.7L515.4 142.1L515.6 142.7L515.9 143.6L516.2 144.6L516.4 145.8L516.7 147.0L516.8 147.7L517.0 148.4L517.1 149.2L517.2 150.0L517.3 150.9L517.4 151.7L517.6 152.6L517.7 153.5L517.8 154.4L518.0 155.3L518.1 156.2L518.3 157.0L518.5 157.9L518.7 158.8L518.9 159.7L519.2 160.7L519.4 161.7L519.6 162.6L519.9 163.5L520.1 164.4L520.4 165.1L520.6 165.7L520.8 166.1L521.0 166.4L521.3 166.4L521.6 165.7L521.9 164.6L522.1 163.4L522.4 162.2L522.7 161.3L523.2 160.4L523.7 159.6L524.3 159.0L524.9 158.6L525.7 158.6L526.6 159.0L527.6 159.2L528.3 159.0L528.6 158.6L528.9 158.0L529.1 157.3L529.2 156.5L529.4 155.7L529.6 154.7L529.8 153.6L529.9 152.9L530.1 152.1L530.2 151.3L530.4 150.4L530.5 149.5L530.7 148.6L530.8 147.7L531.0 146.8L531.1 145.9L531.3 145.0L531.4 144.2L531.6 143.5L531.8 142.5L532.1 141.5L532.3 140.5L532.5 139.6L532.8 138.8L533.0 138.1L533.3 137.6L533.6 137.2L534.2 137.1L534.9 137.7L535.7 138.4L536.4 139.0L537.3 139.1L538.3 139.2L539.2 139.8L539.5 140.3L539.9 140.9L540.2 141.6L540.5 142.4L540.8 143.2L541.1 144.1L541.5 145.0L541.8 146.0L542.0 146.7L542.3 147.3L542.5 148.0L542.7 148.8L543.0 149.5L543.2 150.3L543.5 151.1L543.7 151.9L544.0 152.7L544.2 153.5L544.5 154.4L544.7 155.2L544.9 155.9L545.1 156.7L545.3 157.5L545.5 158.3L545.7 159.2L545.9 160.0L546.1 160.8L546.3 161.7L546.5 162.5L546.7 163.3L546.9 164.1L547.1 164.9L547.4 165.7L547.6 166.4L547.9 167.3L548.2 168.1L548.6 168.9L548.9 169.7L549.3 170.4L549.6 171.1L550.0 171.9L550.3 172.6L550.6 173.4L550.9 174.2L551.2 175.1L551.4 175.8L551.6 176.6L551.8 177.3L551.9 178.1L552.1 178.9L552.3 179.7L552.4 180.5L552.6 181.3L552.7 182.1L552.8 182.9L553.0 183.7L553.1 184.5L553.3 185.3L553.4 186.1L553.5 187.0L553.7 187.9L553.8 188.9L554.0 189.8L554.1 190.8L554.2 191.8L554.3 192.8L554.5 193.7L554.6 194.5L554.7 195.3L554.8 196.0L555.0 196.5L555.1 197.0L556.0 197.5L557.0 196.3L557.5 195.5L558.1 194.5L558.6 193.6L559.2 193.4L559.6 193.8L559.9 194.4L560.3 195.3L560.6 196.4L561.0 197.4L561.4 198.5L561.7 199.3L561.9 200.1L562.2 201.1L562.5 202.1L562.8 203.0L563.1 203.9L563.4 204.6L563.7 205.2L564.1 205.5L564.7 205.4L565.4 204.7L566.0 203.8L566.7 202.7L567.4 201.9L568.0 201.6L568.6 201.8L569.2 202.3L569.7 203.1L570.2 204.2L570.7 205.3L571.0 205.9L571.3 206.7L571.6 207.5L571.8 208.4L572.1 209.3L572.4 210.3L572.7 211.1L573.0 212.0L573.3 212.7L573.6 213.3L574.2 214.2L574.7 214.8L575.3 215.3L575.9 215.7L576.5 216.2L577.2 216.8L578.0 217.5L578.8 218.1L579.6 218.5L580.4 218.7L581.1 218.6L581.8 218.3L582.6 217.9L583.3 217.4L583.9 216.8L584.5 216.2L585.0 215.6L585.4 214.9L585.7 214.2L586.1 213.4L586.4 212.4L586.7 211.1L586.8 210.5L586.9 209.9L587.1 209.3L587.2 208.6L587.3 208.0L587.4 207.2L587.5 206.5L587.6 205.7L587.7 204.9L587.8 204.0L587.9 203.2L588.0 202.2L588.2 201.3L588.3 200.3L588.4 199.2L588.5 198.5L588.6 197.9L588.6 197.1L588.7 196.4L588.8 195.6L588.9 194.9L589.0 194.1L589.1 193.2L589.2 192.4L589.3 191.6L589.4 190.7L589.5 189.9L589.5 189.0L589.6 188.1L589.7 187.3L589.8 186.4L589.9 185.5L590.0 184.6L590.1 183.8L590.2 182.9L590.3 182.1L590.4 181.2L590.4 180.4L590.5 179.6L590.6 178.8L590.7 177.9L590.8 177.1L590.8 176.2L590.9 175.3L591.0 174.4L591.1 173.5L591.2 172.6L591.2 171.6L591.3 170.7L591.4 169.8L591.5 169.0L591.5 168.1L591.6 167.2L591.7 166.4L591.7 165.5L591.8 164.7L591.9 164.0L592.0 163.2L592.0 162.5L592.1 161.8L592.2 161.2L592.2 160.6L592.3 160.0L592.5 158.5L592.7 157.6L592.9 157.0L593.2 156.5L593.4 156.0L593.6 155.1L593.8 153.8L593.9 153.2L594.0 152.6L594.0 151.9L594.1 151.2L594.2 150.4L594.3 149.6L594.4 148.7L594.5 147.9L594.5 147.0L594.6 146.1L594.7 145.2L594.8 144.3L594.9 143.4L595.0 142.5L595.0 141.6L595.1 140.8L595.2 139.9L595.3 139.1L595.4 138.4L595.4 137.7L595.5 137.0L595.6 135.9L595.7 134.9L595.9 134.0L596.0 133.1L596.1 132.2L596.2 131.4L596.3 130.6L596.4 129.9L596.5 129.2L596.6 128.4L596.7 127.7L596.8 127.0L596.9 126.1L597.1 125.2L597.2 124.4L597.3 123.5L597.5 122.8L597.6 122.0L597.8 121.2L597.9 120.4L598.1 119.6L598.3 118.8L598.5 118.0L598.7 117.3L598.9 116.5L599.1 115.7L599.4 114.9L599.6 114.1L599.8 113.3L600.1 112.6L600.3 111.9L600.6 111.0L600.9 110.3L601.3 109.6L601.6 108.9L601.9 108.1L602.2 107.2L602.5 106.1L602.6 105.4L602.8 104.6L602.9 103.8L603.0 102.8L603.1 101.9L603.2 100.9L603.4 99.9L603.5 98.9L603.6 98.0L603.7 97.1L603.8 96.2L603.8 95.5L603.9 94.9L604.0 94.4L604.2 94.5L604.4 94.4L604.5 93.9L604.5 93.4L604.6 92.7L604.7 91.9L604.8 91.1L604.9 90.2L604.9 89.3L605.0 88.4L605.1 87.4L605.2 86.5L605.3 85.5L605.5 84.6L605.6 83.7L605.7 82.8L605.8 82.0L605.9 81.3L606.1 80.2L606.3 79.2L606.5 78.3L606.7 77.4L606.9 76.5L607.1 75.7L607.3 74.9L607.6 74.2L607.8 73.5L608.1 72.8L608.6 71.8L609.2 71.0L609.8 70.3L610.5 69.7L611.1 69.1L611.8 68.6L612.5 68.0L613.2 67.5L614.0 67.0L614.8 66.6L615.5 66.3L616.2 66.2L617.2 66.3L618.1 66.6L619.0 67.2L619.8 67.9L620.3 68.4L620.7 68.9L621.1 69.6L621.6 70.2L622.0 71.0L622.4 71.8L622.8 72.8L623.0 73.4L623.3 74.0L623.5 74.7L623.7 75.4L624.0 76.1L624.2 76.8L624.4 77.6L624.7 78.4L624.9 79.3L625.2 80.1L625.4 81.1L625.7 82.0L625.9 82.7L626.1 83.4L626.3 84.2L626.5 85.0L626.8 85.8L627.0 86.6L627.2 87.4L627.4 88.2L627.7 89.1L627.9 90.0L628.1 90.8L628.4 91.7L628.6 92.6L628.8 93.4L629.0 94.2L629.2 95.1L629.4 95.9L629.6 96.7L629.8 97.5L630.0 98.3L630.1 99.2L630.3 100.0L630.5 100.8L630.7 101.6L630.8 102.4L631.0 103.3L631.2 104.1L631.3 104.9L631.5 105.7L631.6 106.5L631.8 107.2L631.9 108.0L632.1 108.8L632.2 109.5L632.4 110.4L632.5 111.3L632.6 112.2L632.8 113.0L632.9 113.9L633.0 114.8L633.1 115.6L633.2 116.4L633.3 117.2L633.4 118.0L633.5 118.8L633.6 119.6L633.8 120.3L633.9 121.0L634.1 122.0L634.3 122.9L634.5 123.7L634.7 124.6L634.9 125.4L635.1 126.1L635.4 126.9L635.6 127.6L635.8 128.3L636.1 129.0L636.5 129.8L636.9 130.5L637.3 131.2L637.7 131.9L638.2 132.5L638.6 133.2L639.0 133.9L639.3 134.8L639.5 135.5L639.7 136.3L639.9 137.1L640.1 138.0L640.3 138.9L640.4 139.7L640.6 140.6L640.7 141.5L640.9 142.2L641.0 143.0L641.2 143.6L641.5 144.8L641.8 145.9L642.0 146.8L642.3 147.4L642.7 147.7L643.3 147.3L644.1 146.2L644.9 145.2L645.6 145.0L646.0 145.4L646.3 146.0L646.6 146.9L646.9 147.8L647.2 148.9L647.5 149.9L647.8 150.9L648.0 151.7L648.3 152.5L648.5 153.3L648.8 154.2L649.0 155.1L649.3 156.0L649.5 156.8L649.8 157.5L650.0 158.2L650.4 159.3L650.8 160.3L651.2 161.2L651.6 161.9L652.2 162.3L653.0 162.3L653.9 162.0L654.8 161.5L655.7 161.2L656.5 161.1L657.2 161.5L657.7 162.2L658.2 163.1L658.7 164.0L659.1 164.8L659.5 165.8L659.9 166.8L660.3 167.7L660.8 168.3L661.2 168.4L661.5 168.1L661.8 167.5L662.1 166.7L662.4 165.7L662.7 164.7L663.0 163.6L663.2 162.7L663.5 161.8L663.8 161.1L664.4 160.0L664.9 159.3L665.5 158.7L666.0 158.2L666.7 157.9L667.5 157.7L668.2 156.7L668.4 156.2L668.6 155.5L668.8 154.8L669.0 154.0L669.2 153.1L669.4 152.2L669.6 151.3L669.8 150.4L670.0 149.6L670.2 148.7L670.4 148.0L670.7 147.1L670.9 146.1L671.2 145.2L671.5 144.4L671.8 143.6L672.0 142.8L672.3 142.1L672.6 141.4L673.0 140.5L673.5 139.7L673.9 139.0L674.4 138.3L674.8 137.7L675.4 136.9L675.9 136.0L676.5 135.4L677.0 135.1L677.6 135.3L678.1 135.8L678.7 136.6L679.2 137.7L679.4 138.3L679.7 139.1L679.9 140.1L680.2 141.0L680.4 142.0L680.6 142.9L680.8 143.8L681.0 144.5L681.1 145.0" fill="none" stroke="#2aaa62" stroke-width="2.8" stroke-linejoin="round" stroke-linecap="round"/>
<path d="M56.8 40.0 H681.9 V397.4 H65.2" fill="none" stroke="#000" stroke-width="3.05" stroke-linejoin="miter"/>
<path d="M65.2 40.0 V404.6" fill="none" stroke="#000" stroke-width="3.6"/>
<path d="M681.9 38.5 V398.9" fill="none" stroke="#000" stroke-width="3.5"/>
<path d="M56.8 375.1 H65.2" stroke="#000" stroke-width="3"/>
<path d="M56.8 319.2 H65.2" stroke="#000" stroke-width="3"/>
<path d="M56.8 263.4 H65.2" stroke="#000" stroke-width="3"/>
<path d="M56.8 207.6 H65.2" stroke="#000" stroke-width="3"/>
<path d="M56.8 151.7 H65.2" stroke="#000" stroke-width="3"/>
<path d="M56.8 95.8 H65.2" stroke="#000" stroke-width="3"/>
<path d="M60.6 347.2 H65.2" stroke="#000" stroke-width="3"/>
<path d="M60.6 291.3 H65.2" stroke="#000" stroke-width="3"/>
<path d="M60.6 235.5 H65.2" stroke="#000" stroke-width="3"/>
<path d="M60.6 179.6 H65.2" stroke="#000" stroke-width="3"/>
<path d="M60.6 123.8 H65.2" stroke="#000" stroke-width="3"/>
<path d="M60.6 67.9 H65.2" stroke="#000" stroke-width="3"/>
<path d="M151.8 397.4 V404.6" stroke="#000" stroke-width="3.2"/>
<path d="M238.4 397.4 V404.6" stroke="#000" stroke-width="3.2"/>
<path d="M325.0 397.4 V404.6" stroke="#000" stroke-width="3.2"/>
<path d="M411.6 397.4 V404.6" stroke="#000" stroke-width="3.2"/>
<path d="M498.2 397.4 V404.6" stroke="#000" stroke-width="3.2"/>
<path d="M584.8 397.4 V404.6" stroke="#000" stroke-width="3.2"/>
<path d="M671.4 397.4 V404.6" stroke="#000" stroke-width="3.2"/>
<path d="M108.5 397.4 V401.4" stroke="#000" stroke-width="3.2"/>
<path d="M195.1 397.4 V401.4" stroke="#000" stroke-width="3.2"/>
<path d="M281.7 397.4 V401.4" stroke="#000" stroke-width="3.2"/>
<path d="M368.3 397.4 V401.4" stroke="#000" stroke-width="3.2"/>
<path d="M454.9 397.4 V401.4" stroke="#000" stroke-width="3.2"/>
<path d="M541.5 397.4 V401.4" stroke="#000" stroke-width="3.2"/>
<path d="M628.1 397.4 V401.4" stroke="#000" stroke-width="3.2"/>
<text transform="translate(50.6 380.3) scale(1.045 1)" text-anchor="end" font-size="16.3" stroke="#000" stroke-width="0.35" >50</text>
<text transform="translate(50.6 324.4) scale(1.045 1)" text-anchor="end" font-size="16.3" stroke="#000" stroke-width="0.35" >75</text>
<text transform="translate(50.6 268.6) scale(1.045 1)" text-anchor="end" font-size="16.3" stroke="#000" stroke-width="0.35" >100</text>
<text transform="translate(50.6 212.8) scale(1.045 1)" text-anchor="end" font-size="16.3" stroke="#000" stroke-width="0.35" >125</text>
<text transform="translate(50.6 156.9) scale(1.045 1)" text-anchor="end" font-size="16.3" stroke="#000" stroke-width="0.35" >150</text>
<text transform="translate(50.6 101.0) scale(1.045 1)" text-anchor="end" font-size="16.3" stroke="#000" stroke-width="0.35" >175</text>
<text transform="translate(50.6 45.2) scale(1.045 1)" text-anchor="end" font-size="16.3" stroke="#000" stroke-width="0.35" >200</text>
<text transform="translate(65.2 421.5) scale(1.03 1)" text-anchor="middle" font-size="16.4" stroke="#000" stroke-width="0.35" >4000</text>
<text transform="translate(151.8 421.5) scale(1.03 1)" text-anchor="middle" font-size="16.4" stroke="#000" stroke-width="0.35" >3500</text>
<text transform="translate(238.4 421.5) scale(1.03 1)" text-anchor="middle" font-size="16.4" stroke="#000" stroke-width="0.35" >3000</text>
<text transform="translate(325.0 421.5) scale(1.03 1)" text-anchor="middle" font-size="16.4" stroke="#000" stroke-width="0.35" >2500</text>
<text transform="translate(411.6 421.5) scale(1.03 1)" text-anchor="middle" font-size="16.4" stroke="#000" stroke-width="0.35" >2000</text>
<text transform="translate(498.2 421.5) scale(1.03 1)" text-anchor="middle" font-size="16.4" stroke="#000" stroke-width="0.35" >1500</text>
<text transform="translate(584.8 421.5) scale(1.03 1)" text-anchor="middle" font-size="16.4" stroke="#000" stroke-width="0.35" >1000</text>
<text transform="translate(671.4 421.5) scale(1.03 1)" text-anchor="middle" font-size="16.4" stroke="#000" stroke-width="0.35" >500</text>
<text transform="translate(373.5 442.4) scale(1.155 1)" text-anchor="middle" font-size="15.4" stroke="#000" stroke-width="0.35" >Wavenumber (cm<tspan font-size="11" dy="-6.5">-1</tspan><tspan dy="6.5">)</tspan></text>
<text transform="translate(12.8 217.6) rotate(-90) scale(1 1.11)" text-anchor="middle" font-size="15.7">Transmittance(%)</text>
<rect x="128.6" y="1.6" width="164" height="86.4" fill="#fff" stroke="#000" stroke-width="3.4"/>
<path d="M130.3 13.6 H168.6" stroke="#000" stroke-width="1.6"/>
<text transform="translate(173.4 18.7) scale(1.125 1)" text-anchor="start" font-size="17.2" stroke="#000" stroke-width="0.35" >CELL</text>
<path d="M130.3 34.8 H168.6" stroke="#ff0000" stroke-width="2.2"/>
<text transform="translate(173.4 39.9) scale(1.125 1)" text-anchor="start" font-size="17.2" stroke="#000" stroke-width="0.35" >CELL-Cl</text>
<path d="M130.3 56.0 H168.6" stroke="#1767e0" stroke-width="2.2"/>
<text transform="translate(173.4 61.1) scale(1.125 1)" text-anchor="start" font-size="17.2" stroke="#000" stroke-width="0.35" >CELL@HH</text>
<path d="M130.3 77.2 H168.6" stroke="#2aaa62" stroke-width="2.2"/>
<text transform="translate(173.4 82.3) scale(1.125 1)" text-anchor="start" font-size="17.2" stroke="#000" stroke-width="0.35" >CELL@HBH</text>
<text transform="translate(335.0 92.6) scale(1.15 1)" text-anchor="middle" font-size="18" stroke="#000" stroke-width="0.35" >(d)</text>
<text transform="translate(354.5 164.6) scale(1.15 1)" text-anchor="middle" font-size="18" stroke="#000" stroke-width="0.35" >(c)</text>
<text transform="translate(357.0 215.7) scale(1.15 1)" text-anchor="middle" font-size="18" stroke="#000" stroke-width="0.35" >(b)</text>
<text transform="translate(363.2 266.3) scale(1.18 1)" text-anchor="middle" font-size="18" stroke="#000" stroke-width="0.35" >(a)</text>
<path d="M471.9 148.4 V160.6" stroke="#000" stroke-width="0.85"/><path d="M469.2 159.6 L474.6 159.6 L471.9 168.4 Z" fill="#000"/>
<path d="M531.7 213.8 V228.4" stroke="#000" stroke-width="0.85"/><path d="M529.0 227.4 L534.4 227.4 L531.7 236.2 Z" fill="#000"/>
<path d="M616.4 216.2 V232.7" stroke="#000" stroke-width="0.85"/><path d="M613.7 231.7 L619.1 231.7 L616.4 240.9 Z" fill="#000"/>
<text transform="translate(479.3 180.4) scale(1.1 1)" text-anchor="middle" font-size="13.4" stroke="#000" stroke-width="0.35" >1645</text>
<text transform="translate(521.2 250.4) scale(1.1 1)" text-anchor="middle" font-size="13.4" stroke="#000" stroke-width="0.35" >1320</text>
<text transform="translate(611.2 256.0) scale(1.1 1)" text-anchor="middle" font-size="13.4" stroke="#000" stroke-width="0.35" >818</text>
</svg>
</body></html>
